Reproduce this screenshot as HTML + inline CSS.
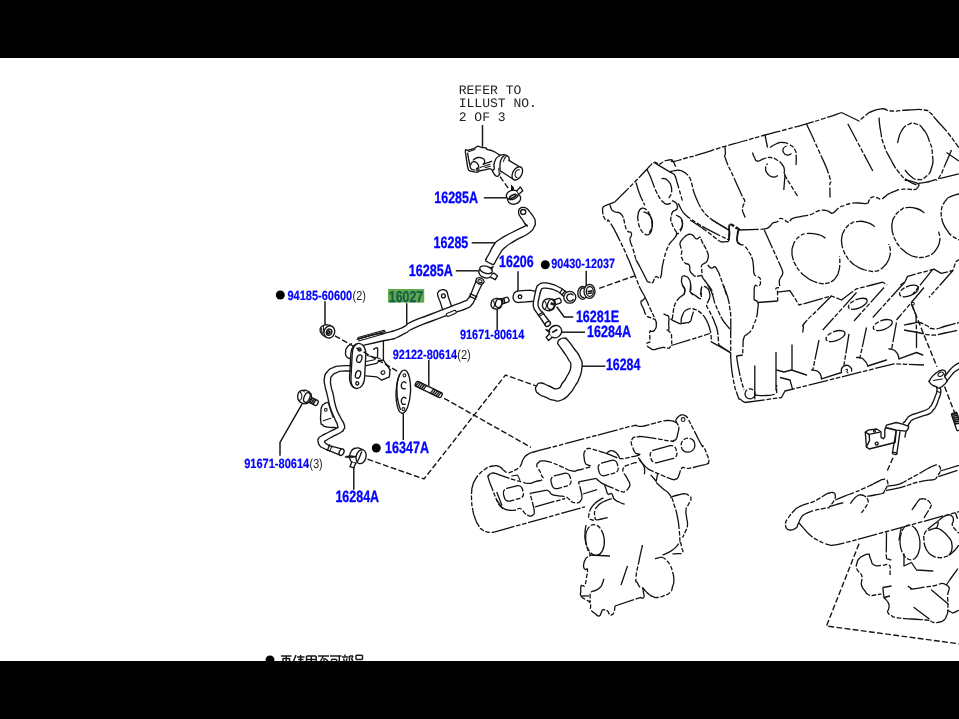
<!DOCTYPE html>
<html><head><meta charset="utf-8"><title>Parts diagram</title>
<style>
html,body{margin:0;padding:0;background:#fff;}
body{width:959px;height:719px;overflow:hidden;position:relative;font-family:"Liberation Sans",sans-serif;}
svg{position:absolute;left:0;top:0;display:block;}
text{text-rendering:geometricPrecision;}
.s{fill:none;stroke:#151515;stroke-width:1.35;stroke-linecap:round;stroke-linejoin:round;}
.w{fill:#fff;stroke:#151515;stroke-width:1.35;stroke-linecap:round;stroke-linejoin:round;}
.t{fill:none;stroke:#151515;stroke-width:1.05;stroke-linecap:round;stroke-linejoin:round;}
.k{fill:none;stroke:#1a1a1a;stroke-width:1.7;stroke-linecap:butt;}
.ld{fill:none;stroke:#151515;stroke-width:1.45;}
.d{fill:none;stroke:#151515;stroke-width:1.4;stroke-dasharray:5.8 2.4;}
.c{fill:none;stroke:#111;stroke-width:1.3;stroke-dasharray:20 1.7 4.6 1.7 4.6 1.7;stroke-linejoin:round;}
.b14{font:bold 15.0px "Liberation Sans",sans-serif;fill:#0000ff;stroke:#0000ff;stroke-width:0.3;}
.b12{font:bold 13.3px "Liberation Sans",sans-serif;fill:#0000ff;stroke:#0000ff;stroke-width:0.2;}
.g15{font:bold 15.8px "Liberation Sans",sans-serif;fill:#17604f;stroke:#17604f;stroke-width:0.35;}
.q12{font:13px "Liberation Sans",sans-serif;fill:#222;}
.m13{font:13px "Liberation Mono",monospace;fill:#222;}
</style></head><body>
<svg width="959" height="719" viewBox="0 0 959 719">
<rect x="0" y="0" width="959" height="719" fill="#fff"/>
<g opacity="0.999">
<text class="m13" x="458.7" y="93.7" textLength="62.6" lengthAdjust="spacingAndGlyphs">REFER TO</text>
<text class="m13" x="458.7" y="107.2" textLength="78.2" lengthAdjust="spacingAndGlyphs">ILLUST NO.</text>
<text class="m13" x="458.7" y="121.2" textLength="47" lengthAdjust="spacingAndGlyphs">2 OF 3</text>
<text class="b14" transform="translate(434.3 202.5) scale(1 1.09)" x="0" y="0" textLength="43.7" lengthAdjust="spacingAndGlyphs">16285A</text>
<text class="b14" transform="translate(433.6 247.8) scale(1 1.09)" x="0" y="0" textLength="34.7" lengthAdjust="spacingAndGlyphs">16285</text>
<text class="b14" transform="translate(408.8 275.5) scale(1 1.09)" x="0" y="0" textLength="44" lengthAdjust="spacingAndGlyphs">16285A</text>
<text class="b14" transform="translate(499.1 266.7) scale(1 1.09)" x="0" y="0" textLength="34.5" lengthAdjust="spacingAndGlyphs">16206</text>
<text class="b12" x="551.3" y="268.3" textLength="63.7" lengthAdjust="spacingAndGlyphs">90430-12037</text>
<text class="b12" x="287.5" y="299.7" textLength="64.7" lengthAdjust="spacingAndGlyphs">94185-60600</text>
<text class="q12" x="352.6" y="299.7" textLength="13.2" lengthAdjust="spacingAndGlyphs">(2)</text>
<rect x="388" y="289" width="36.2" height="13.6" fill="#62a94b"/>
<text class="g15" x="388.8" y="301.9" textLength="34.4" lengthAdjust="spacingAndGlyphs">16027</text>
<text class="b14" transform="translate(575.9 322) scale(1 1.09)" x="0" y="0" textLength="43.1" lengthAdjust="spacingAndGlyphs">16281E</text>
<text class="b12" x="460" y="338.7" textLength="64.2" lengthAdjust="spacingAndGlyphs">91671-80614</text>
<text class="b14" transform="translate(587.1 336.7) scale(1 1.09)" x="0" y="0" textLength="44" lengthAdjust="spacingAndGlyphs">16284A</text>
<text class="b12" x="392.8" y="358.8" textLength="64.2" lengthAdjust="spacingAndGlyphs">92122-80614</text>
<text class="q12" x="457.2" y="358.8" textLength="13.6" lengthAdjust="spacingAndGlyphs">(2)</text>
<text class="b14" transform="translate(605.9 370) scale(1 1.09)" x="0" y="0" textLength="34.4" lengthAdjust="spacingAndGlyphs">16284</text>
<text class="b14" transform="translate(385.1 452.5) scale(1 1.09)" x="0" y="0" textLength="44" lengthAdjust="spacingAndGlyphs">16347A</text>
<text class="b12" x="244.2" y="467.8" textLength="65" lengthAdjust="spacingAndGlyphs">91671-80614</text>
<text class="q12" x="309.6" y="467.8" textLength="13" lengthAdjust="spacingAndGlyphs">(3)</text>
<text class="b14" transform="translate(335.4 501.7) scale(1 1.09)" x="0" y="0" textLength="43.7" lengthAdjust="spacingAndGlyphs">16284A</text>
<circle cx="545.3" cy="264.7" r="4.5" fill="#000"/>
<circle cx="280.3" cy="295" r="4.5" fill="#000"/>
<circle cx="376.3" cy="448" r="4.5" fill="#000"/>
<circle cx="270" cy="660" r="4.5" fill="#000"/>
<path class="ld" d="M482.5 125 L482.5 146.7"/>
<path class="ld" d="M483.8 197.8 L506.7 197.8"/>
<path class="ld" d="M471.7 242.8 L495 242.8"/>
<path class="ld" d="M455.8 270.8 L480 270.8"/>
<path class="ld" d="M518 271.3 L518 290.8"/>
<path class="ld" d="M586.2 270.8 L586.2 286.7"/>
<path class="ld" d="M325 301.2 L325 324.7"/>
<path class="ld" d="M406.7 303.2 L406.7 324.5"/>
<path class="ld" d="M556.7 306.7 L564.2 317 L573.3 317"/>
<path class="ld" d="M497.2 308.9 L497.2 329.6"/>
<path class="ld" d="M560 332.2 L585 332.2"/>
<path class="ld" d="M428.8 360 L428.8 385.8"/>
<path class="ld" d="M582 366.2 L605.3 366.2"/>
<path class="ld" d="M403.3 413.3 L403.3 440"/>
<path class="ld" d="M302 404.2 L280 442.5 L280 455.8"/>
<path class="ld" d="M353.8 466.7 L353.8 489.7"/>
<path class="ld" d="M281 656 L291.5 656"/>
<path class="ld" d="M283 658 L283 662"/>
<path class="ld" d="M286.2 656 L286.2 662"/>
<path class="ld" d="M289.5 658 L289.5 662"/>
<path class="ld" d="M283 658.5 L289.5 658.5"/>
<path class="ld" d="M296 655 L293.2 662"/>
<path class="ld" d="M297 657 L304.5 657"/>
<path class="ld" d="M300.6 655 L300.6 662"/>
<path class="ld" d="M298 659.5 L303.5 659.5"/>
<path class="ld" d="M306.5 656 L316.2 656"/>
<path class="ld" d="M306.5 656 L306.5 662"/>
<path class="ld" d="M311.3 656 L311.3 662"/>
<path class="ld" d="M316.2 656 L316.2 662"/>
<path class="ld" d="M306.5 659.5 L316.2 659.5"/>
<path class="ld" d="M318 656 L329 656"/>
<path class="ld" d="M323.5 656 L320 662"/>
<path class="ld" d="M324 658 L324 662"/>
<path class="ld" d="M325 658.5 L328 661"/>
<path class="ld" d="M330 656 L341.5 656"/>
<path class="ld" d="M339.3 656 L339.3 662"/>
<path class="ld" d="M331.5 659.3 L336.5 659.3"/>
<path class="ld" d="M331.5 659.3 L331.5 662"/>
<path class="ld" d="M336.5 659.3 L336.5 662"/>
<path class="ld" d="M345 654.6 L345 656.5"/>
<path class="ld" d="M342 657 L348.5 657"/>
<path class="ld" d="M343.5 658.5 L344.3 661"/>
<path class="ld" d="M347 658.5 L346.3 661"/>
<path class="ld" d="M349.5 656 L353 656"/>
<path class="ld" d="M353 656 L351.5 659"/>
<path class="ld" d="M349.5 656 L349.5 662"/>
<path class="ld" d="M351.5 659 L353 661"/>
<path class="ld" d="M356 655.3 L362.5 655.3"/>
<path class="ld" d="M356 655.3 L356 659.5"/>
<path class="ld" d="M362.5 655.3 L362.5 659.5"/>
<path class="ld" d="M356 659.5 L362.5 659.5"/>
<path class="s" d="M508.8 160.4 L520.8 167.5"/>
<path class="s" d="M501.7 171.7 L513.3 179.2"/>
<ellipse class="w" cx="517.3" cy="173.4" rx="4.5" ry="7.2" transform="rotate(30 517.3 173.4)"/>
<path class="t" d="M519.4 169.8C518.5 170.1 518 169.3 516.6 170.6C515.2 171.9 515.5 171.7 515.2 173.6C514.9 175.5 514.9 175 515.6 176.4C516.3 177.8 516.7 177.3 517.2 177.8"/>
<path class="s" d="M467.5 150.4C467.1 150.2 467 149.8 466.3 149.9C465.6 150 465.5 148.8 465.4 150.8C465.3 152.8 465.6 152.7 466 156C466.4 159.3 466.2 157.6 466.7 160.8C467.2 164 466.9 162.7 467.4 165.5C467.9 168.3 467.6 167.5 468.3 169.2C469 170.9 468.5 169.9 469.6 170.6C470.7 171.3 470.1 170.9 471.7 171.3C473.3 171.7 472.6 171.5 474.5 171.8C476.4 172.1 475.7 172.4 477.5 172.1C479.3 171.8 477.5 171.6 480 170.8C482.5 170 481.7 170.5 485 169.8C488.3 169.1 487.5 168.5 490 168.8C492.5 169.1 491.7 170.1 492.5 170.8"/>
<path class="s" d="M467.5 150.4C468.7 150.1 468.8 150.1 471 149.4C473.2 148.7 472.5 149 474.2 148.3C475.9 147.6 474.9 147.9 476 147.2C477.1 146.5 476.2 146.4 477.5 146.3C478.8 146.2 478.3 146.4 480 146.8C481.7 147.2 480.6 147.1 482.5 147.5C484.4 147.9 484.4 147.3 485.8 147.9C487.2 148.5 485.5 148.5 486.7 149.2C487.9 149.9 487.6 149.5 489.5 150C491.4 150.5 490.2 149.8 492.5 150.8C494.8 151.8 494 151.5 496.5 153C499 154.5 498.8 154.6 500 155.4"/>
<path class="s" d="M500 155.4C498.9 156.2 498.3 156.2 496.7 157.9C495.1 159.6 496 158.7 495.2 160.5C494.4 162.3 494.6 161.5 494.2 163.3C493.8 165.1 494 164.3 494 166C494 167.7 494.3 167 494.2 168.3C494.1 169.6 494.2 169 493.6 169.8C493 170.6 492.5 169.7 492.5 170.8C492.5 171.9 492.8 171.6 493.6 173C494.4 174.4 494.1 174 495 175C495.9 176 495.4 175.6 496.2 176C497 176.4 496.6 176.6 497.5 176.3C498.4 176 498.2 176.2 499 175.2C499.8 174.2 499.7 173.9 500 173.3"/>
<path class="s" d="M500 155.4C500.9 155.1 500.9 154.7 502.6 154.6C504.3 154.5 503.6 154.7 505 155C506.4 155.3 505.7 154.8 506.8 155.4C507.9 156 507.6 155.8 508.3 156.7C509 157.6 508.7 157 509 158.2C509.3 159.4 509.1 159.5 509.2 160.2"/>
<path class="s" d="M504.2 155.8C503.6 156.3 503.4 156.3 502.4 157.4C501.4 158.5 502 157.7 501.3 159.2C500.6 160.7 500.8 160.1 500.4 162C500 163.9 500.1 163 500 165C499.9 167 499.9 166.1 500 168C500.1 169.9 499.8 169.6 500.4 170.8C501 172 501.3 171.4 501.7 171.7"/>
<path class="t" d="M498.8 168.3 L499.2 173.6"/>
<path class="t" d="M506.4 156.4C505.7 157.2 505.3 157.1 504.4 158.8C503.5 160.5 503.9 160.7 503.6 161.6"/>
<path class="s" d="M467.6 153.3C467.9 154.9 467.9 155.2 468.4 158C468.9 160.8 468.7 159.2 469.2 161.7C469.7 164.2 469.5 163.3 470 165.5C470.5 167.7 470 167 470.8 168.3C471.6 169.6 471.2 168.9 472.3 169.5C473.4 170.1 473.6 169.8 474.2 170"/>
<path class="t" d="M468.3 151.7 L475 149.6"/>
<path class="s" d="M473.3 160C474.1 159.5 473.9 159.2 475.6 158.4C477.3 157.6 476.5 157.7 478.3 157.5C480.1 157.3 479.3 157.4 481 157.8C482.7 158.2 482.2 158 483.3 158.8C484.4 159.6 484 159.2 484.4 160.2C484.8 161.2 484.7 160.7 484.6 161.7C484.5 162.7 484.6 162.4 484.2 163.2C483.8 164 483.6 163.9 483.3 164.2"/>
<path class="s" d="M470.8 164.6C471.2 163.9 470.9 163.6 472 162.6C473.1 161.6 472.7 161.6 474.2 161.7C475.7 161.8 475.2 161.7 476.6 162.8C478 163.9 477.7 163.5 478.3 165C478.9 166.5 478.7 165.8 478.4 167.2C478.1 168.6 477.8 168.5 477.5 169.2"/>
<ellipse class="t" cx="477.6" cy="169.4" rx="1.5" ry="1.4"/>
<path class="s" d="M483.3 164.2 L491.7 161.3"/>
<path class="t" d="M480 167.5 L490 164.2"/>
<path class="t" d="M485 167.8 L490.4 166.2"/>
<path class="d" d="M500 176.7 L508.6 188.6"/>
<ellipse class="w" cx="514.2" cy="198.9" rx="6.6" ry="5.2" transform="rotate(-15 514.2 198.9)"/>
<ellipse class="w" cx="512.3" cy="194.8" rx="6.2" ry="4.5" transform="rotate(-20 512.3 194.8)"/>
<ellipse class="k" cx="512.8" cy="196.4" rx="3.7" ry="1.2" transform="rotate(-27 512.8 196.4)"/>
<path class="w" d="M516.9 190.8 L520.3 186.9 L522.8 190.8 L519.4 193.8"/>
<path d="M511 184.6 L513.9 187.2 L514 190.6 L511 190.4 Z" fill="#111"/>
<path class="s" d="M518.6 211.2C519 210.3 518.3 209.9 519.8 208.6C521.3 207.3 520.8 207.5 523 207.4C525.2 207.3 524.2 207 526.4 208.4C528.6 209.8 527.2 208.8 529.5 211.6C531.8 214.4 531.5 213.3 533.4 216.8C535.3 220.3 535.1 218.4 535.2 222C535.3 225.6 536 223.8 533.8 227.5C531.6 231.2 534.5 229 528.6 233.2C522.7 237.4 523.9 235.4 516 240.2C508.1 245 510.5 242.7 505 247.5C499.5 252.3 503 249.1 499.5 254.5C496 259.9 496.1 260.6 494.4 263.6"/>
<path class="s" d="M518.6 211.2C518.7 212.1 518.2 212.1 518.8 214C519.4 215.9 519 214.6 520.4 216.8C521.8 219 521.2 217.8 523 220.6C524.8 223.4 524.9 223.7 525.8 225.2"/>
<path class="s" d="M527.2 225.2C522.1 227.6 521.2 227.7 512 232.5C502.8 237.3 505.7 235.2 499.5 239.5C493.3 243.8 496.8 241 493.5 245.5C490.2 250 492.1 248.4 489.5 253C486.9 257.6 487 257.3 485.8 259.4"/>
<path class="s" d="M485.8 259.4C485.8 259.8 485.5 260 485.7 260.6C485.9 261.2 485.2 260.5 486.4 261.3C487.6 262.1 487.5 262 489.4 263C491.3 264 490.9 263.8 492.2 264.3C493.5 264.8 492.7 264.6 493.4 264.4C494.1 264.2 494.1 263.9 494.4 263.6"/>
<ellipse class="s" cx="523.2" cy="211.9" rx="2.6" ry="2.4"/>
<path class="t" d="M525.6 223.8 L527.4 226.4"/>
<path class="w" d="M479.6 269.4C479.4 270.1 478.8 269.5 478.9 271.4C479 273.3 478.8 273.2 480 275C481.2 276.8 480.6 275.8 482.5 276.8C484.4 277.8 483.8 277.5 485.6 277.9C487.4 278.3 486.5 278.1 488 277.9C489.5 277.7 488.9 277.8 490 277.2C491.1 276.6 490.6 277 491.3 276C492 275 491.8 274.8 492 274.2"/>
<ellipse class="w" cx="486" cy="269.8" rx="6.5" ry="3.5" transform="rotate(17 486 269.8)"/>
<path class="w" d="M492.2 273.9 L493.9 273.1 L497.5 275.8 L495.3 279.7 L490.8 277.3"/>
<path d="M489.8 267.9 L493.5 266 L492.3 269.2 Z" fill="#111" stroke="#111" stroke-width="0.6"/>
<path class="s" d="M357.5 339.2C362.3 337.9 362.6 337.3 372 335.2C381.4 333.1 379.3 334 385.6 332.8C391.9 331.6 386.9 332.7 391 331.6C395.1 330.5 393.3 331.2 398 329.4C402.7 327.6 400.4 328.8 405 326.2C409.6 323.6 403.4 325.6 411.7 321.7C420 317.8 417.2 319.5 430 314.5C442.8 309.5 438.9 311.1 450 306.8C461.1 302.5 457.3 304.4 463.3 301.7C469.3 299 465.6 301.2 468 298.8C470.4 296.4 468.8 298.4 470.6 294.6C472.4 290.8 471.4 292.6 473.5 287.5C475.6 282.4 475.7 282 476.8 279.3"/>
<path class="s" d="M361.7 345.8C367.8 344.4 369.9 343.7 380 341.5C390.1 339.3 386.4 340.5 392 339.2C397.6 337.9 393.4 339 396.7 337.5C400 336 398.7 336.5 402 334.8C405.3 333.1 403 334.6 406.7 332.5C410.4 330.4 404.6 332.4 413 328.6C421.4 324.8 419 326 432 321C445 316 440.4 317.8 452 313.6C463.6 309.4 460.2 311.2 466.7 308.3C473.2 305.4 468.9 307.8 471.5 305C474.1 302.2 472.3 304.5 474.6 300C476.9 295.5 475.6 297.6 478.5 291.5C481.4 285.4 481.6 285 483.2 281.8"/>
<ellipse class="w" cx="480" cy="280.9" rx="4.1" ry="3" transform="rotate(18 480 280.9)"/>
<ellipse class="t" cx="480" cy="281.1" rx="2.2" ry="1.3" transform="rotate(18 480 281.1)"/>
<path class="s" d="M469.2 296.2 L475.8 299.2"/>
<path class="s" d="M470.2 293.6 L476.9 296.8"/>
<path class="s" d="M442.5 309.6C441.7 306.9 441.6 306.2 440 301.4C438.4 296.6 438.3 298.3 437.7 295.2C437.1 292.1 437.4 293.8 438.3 292.2C439.2 290.6 438.8 291.1 440.4 290.3C442 289.5 441.3 289.7 443 289.7C444.7 289.7 444.1 289.5 445.5 290.4C446.9 291.3 446.4 290.9 447.2 292.4C448 293.9 447 292.3 447.8 295C448.6 297.7 448.3 296.8 449.6 300.6C450.9 304.4 450.9 304.5 451.6 306.4"/>
<ellipse class="s" cx="443.4" cy="295.9" rx="1.9" ry="2"/>
<g transform="rotate(-21.5 451.3 313.4)"><rect class="w" x="446.1" y="311.8" width="10.4" height="3.2" rx="1.6" style="stroke-width:1.1"/></g>
<path class="s" d="M357.5 339.2 L384.2 331.7"/>
<path class="t" d="M358.5 340.9 L385 333.4"/>
<path class="t" d="M358 337.6 L384 330.2 L385.2 331.6"/>
<path class="s" d="M383.4 340.8 L383.4 360.2"/>
<path class="s" d="M365 365.8 L376.7 363.3 L380 360.2 L383.4 360.2"/>
<path class="s" d="M383.4 360.2C384.4 361.6 384.3 361.4 386.5 364.5C388.7 367.6 388.8 367.9 390 369.6"/>
<path class="s" d="M390 369.6 L389.4 376.8 L381.8 380.2 L376.7 376.8 L365.8 375.8"/>
<ellipse class="t" cx="383" cy="372.6" rx="2" ry="1.7" transform="rotate(-20 383 372.6)"/>
<path class="s" d="M373.6 349.4C374.3 349 374.3 348.5 375.6 348.2C376.9 347.9 376.7 346.9 377.4 348.4C378.1 349.9 377.6 349.7 377.6 352.6C377.6 355.5 377.5 355.7 377.4 357.2"/>
<path class="t" d="M367 355.5 L380 358.6"/>
<path class="t" d="M366 361.5 L374.5 359.8 L376 357.5"/>
<path class="s" d="M351.5 343.8C350.1 344.9 349.3 344.3 347.3 347C345.3 349.7 345.8 348.8 345.6 352C345.4 355.2 345.1 354.4 346.6 356.6C348.1 358.8 349 357.9 350.2 358.6"/>
<g transform="rotate(3 357.7 366)">
<path class="w" d="M357.7 343.4 C361.6 343.4 365.1 347.5 365.2 354 L365.2 378 C365.1 384.5 361.6 388.5 357.7 388.5 C353.8 388.5 350.3 384.5 350.2 378 L350.2 354 C350.3 347.5 353.8 343.4 357.7 343.4 Z"/>
<path class="s" d="M355.6 344.2 C352.8 345.6 351.6 349.5 351.6 354 L351.6 378 C351.6 382.6 352.8 386.4 355.4 387.8"/>
<ellipse class="s" cx="358.6" cy="349.4" rx="1.5" ry="1.6"/>
<ellipse class="s" cx="358.2" cy="383.4" rx="1.5" ry="1.6"/>
<ellipse class="s" cx="358.9" cy="358.6" rx="2.5" ry="3.9" transform="rotate(14 358.9 358.6)"/>
<ellipse class="s" cx="358.5" cy="374.4" rx="2.5" ry="3.9" transform="rotate(14 358.5 374.4)"/>
</g>
<path class="s" d="M350.8 365.8C347.5 365.8 346.8 365.2 341 365.8C335.2 366.4 337.9 365.5 333.3 367.5C328.7 369.5 330.2 368.2 327.2 371.8C324.2 375.4 325.1 373.6 324.4 378.3C323.7 383 324.1 380.5 325 386C325.9 391.5 325.5 387.9 327.2 394.8C328.9 401.7 327.7 399.1 330 406.7C332.3 414.3 331.7 411.2 334.2 417.5C336.7 423.8 337 422 337.6 425.6C338.2 429.2 338.9 426.3 336 428.4C333.1 430.5 333.8 429.5 329 432C324.2 434.5 325.2 433.6 321.7 435.8C318.2 438 319.7 436.5 318.5 438.6C317.3 440.7 317.8 439.7 318.2 442C318.6 444.3 318 443.4 319.6 445.4C321.2 447.4 319.2 446 323 448C326.8 450 325.3 449.1 331 451.4C336.7 453.7 337 453.8 340 455"/>
<path class="s" d="M351.3 371C348.2 371.1 346.9 370.7 342 371.2C337.1 371.7 340 371.1 336.7 372.6C333.4 374.1 334.2 373.1 332.2 375.6C330.2 378.1 330.9 376.2 330.6 380C330.3 383.8 330.3 382.1 331.2 387C332.1 391.9 331.8 388.2 333.3 394.8C334.8 401.4 333.6 399.5 335.8 406.7C338 413.9 337.2 410.4 340 416.5C342.8 422.6 343.1 420.6 344.3 425C345.5 429.4 344.7 427.2 343.6 429.6C342.5 432 344.5 429.9 341 432.2C337.5 434.5 337.8 433.8 333 436.4C328.2 439 329.4 438.3 326.7 440C324 441.7 325.2 440.3 324.8 441.4C324.4 442.5 323.9 441.7 325.6 443.2C327.3 444.7 326.2 444.3 330 445.8C333.8 447.3 332.6 446.4 337 447.6C341.4 448.8 341.2 448.8 343.3 449.4"/>
<ellipse class="w" cx="341.6" cy="452.2" rx="2.3" ry="3.4" transform="rotate(22 341.6 452.2)"/>
<path class="s" d="M329.6 444.8 L327.4 450.4"/>
<path class="t" d="M332 445.8 L329.8 451.4"/>
<path class="w" d="M327.6 402.4C326.4 402.9 325.9 402.5 324 404C322.1 405.5 322.8 404.1 321.8 406.8C320.8 409.5 321.2 407 320.9 412C320.6 417 320.2 417.4 320.8 421.7C321.4 426 321.1 423.1 322.6 424.8C324.1 426.5 322.7 425.9 325.2 426.7C327.7 427.5 326.5 427 330 427.3C333.5 427.6 333.7 427.5 335.6 427.6"/>
<ellipse class="t" cx="325.8" cy="409.7" rx="1.3" ry="1.5"/>
<path class="t" d="M323.3 420.8 L330.8 418.3"/>
<path class="t" d="M328.2 402.6C328.9 404.7 328.6 404 330.2 409C331.8 414 332.1 414.7 333 417.5"/>
<path class="w" d="M330.4 325.4C329.3 325.2 329 324.9 327 324.8C325 324.7 326.4 324.4 324.4 325.2C322.4 326 322.4 325.4 321 327.2C319.6 329 320.1 328.6 320.2 330.6C320.3 332.6 320.4 331.7 321.4 333.2C322.4 334.7 321.6 333.9 323.1 335.2C324.6 336.5 325 336.5 326 337.2"/>
<path class="t" d="M323.4 326.6C323.5 327.7 323.3 327.7 323.6 330C323.9 332.3 324.1 332.3 324.4 333.4"/>
<path class="t" d="M321.6 328.6C321.7 329.4 321.5 329.5 321.8 331C322.1 332.5 322.3 332.5 322.6 333.2"/>
<ellipse class="w" cx="329.4" cy="331.9" rx="5.3" ry="6.2" transform="rotate(18 329.4 331.9)"/>
<ellipse class="s" cx="329.1" cy="332.2" rx="2.7" ry="3.2" transform="rotate(18 329.1 332.2)"/>
<ellipse class="k" cx="328.8" cy="332.3" rx="1.1" ry="1.4" transform="rotate(18 328.8 332.3)"/>
<ellipse class="w" cx="403.3" cy="391.7" rx="7.2" ry="21.6" transform="rotate(3 403.3 391.7)"/>
<path class="s" d="M399.6 374.4C398.9 376.9 398.3 376.3 397.4 382C396.5 387.7 396.8 385.3 397 391.6C397.2 397.9 396.9 395.1 398 401C399.1 406.9 399.6 406.6 400.4 409.4"/>
<ellipse class="t" cx="404.4" cy="375.3" rx="1.4" ry="1.6"/>
<ellipse class="t" cx="403.4" cy="409.2" rx="1.4" ry="1.6"/>
<path class="s" d="M406 382.8C405.1 382.5 404.9 381.2 403.4 381.8C401.9 382.4 401.8 382.5 401.4 384.6C401 386.7 400.9 386.9 402.2 388.2C403.5 389.5 404.2 388.5 405.2 388.6"/>
<path class="s" d="M406 398.4C405.1 398.1 404.9 396.8 403.4 397.4C401.9 398 401.8 398.1 401.4 400.2C401 402.3 400.9 402.5 402.2 403.8C403.5 405.1 404.2 404.1 405.2 404.2"/>
<g transform="rotate(25.8 428.7 389.5)">
<rect class="w" x="414.3" y="386.8" width="28.8" height="5.4" rx="1.8"/>
<path class="s" d="M416.6 387 L415.4 392"/>
<path class="s" d="M418.7 387 L417.5 392"/>
<path class="s" d="M420.8 387 L419.6 392"/>
<path class="s" d="M422.9 387 L421.7 392"/>
<path class="s" d="M425 387 L423.8 392"/>
<path class="s" d="M433 387 L431.8 392"/>
<path class="s" d="M435.1 387 L433.9 392"/>
<path class="s" d="M437.2 387 L436 392"/>
<path class="s" d="M439.3 387 L438.1 392"/>
<path class="s" d="M441.2 387 L440 392"/>
</g>
<g transform="rotate(26 305.5 397.6)">
<rect class="w" x="305.5" y="394.90000000000003" width="13.6" height="5.4" rx="1.6"/>
<path class="k" d="M307.9 394.7 L307.0 400.5"/>
<path class="k" d="M309.9 394.7 L309.0 400.5"/>
<path class="k" d="M311.9 394.7 L311.0 400.5"/>
<path class="k" d="M313.9 394.7 L313.0 400.5"/>
<path class="k" d="M315.9 394.7 L315.0 400.5"/>
</g>
<path class="w" d="M298 394.5C298.6 392.5 297.9 393 299.6 391.6C301.3 390.2 300.5 390.7 303 390.4C305.5 390.1 304.7 390.1 307 390.8C309.3 391.5 308.3 391 309.8 392.6C311.3 394.2 311.1 393.3 311.4 395.6C311.7 397.9 311.5 397.1 310.6 399.4C309.7 401.7 310.3 401 308.6 402.4C306.9 403.8 307.7 403.4 305.4 403.6C303.1 403.8 303.7 404 301.6 403C299.5 402 300.3 402.4 299 400.6C297.7 398.8 298.1 399.6 297.8 397.6C297.5 395.6 297.4 396.5 298 394.5Z"/>
<ellipse class="s" cx="306.9" cy="397.5" rx="2.8" ry="5.1" transform="rotate(22 306.9 397.5)"/>
<path class="t" d="M299.6 391.6C300.3 392.5 301 392.1 301.6 394.4C302.2 396.7 302.3 396.5 301.4 398.6C300.5 400.7 299.8 399.9 299 400.6"/>
<path class="t" d="M303 390.4 L304.4 392"/>
<path class="w" d="M362.8 449.7C361.7 449.2 361.6 448.8 359.6 448.3C357.6 447.8 359 447.7 356.7 448.1C354.4 448.5 354.8 447.8 352.8 449.4C350.8 451 351.6 450.7 350.6 452.8C349.6 454.9 350 453.7 349.7 455.6C349.4 457.5 349.1 456.4 349.8 458.4C350.5 460.4 349.6 460.2 351.7 461.7C353.8 463.2 354.6 462.6 356.1 463"/>
<ellipse class="w" cx="361.1" cy="456.7" rx="4.9" ry="7.1" transform="rotate(15 361.1 456.7)"/>
<path class="s" d="M361.5 452C360.9 453.7 360.9 453.9 359.6 457C358.3 460.1 358.3 459.8 357.6 461.2"/>
<path d="M345.2 456.4 L350.2 455.6 L356 456.3 L356 457.2 L350.4 457.8 L345.2 457.4 Z" fill="#111" stroke="#111" stroke-width="0.5"/>
<path class="w" d="M351.7 462.2 L350 466.7 L353.9 467.8 L355.6 463.3"/>
<g transform="rotate(-19 498.6 302.6)">
<rect class="w" x="498.6" y="300.1" width="10.6" height="5.0" rx="1.6"/>
<path class="k" d="M501.0 299.9 L500.1 305.3"/>
<path class="k" d="M503.0 299.9 L502.1 305.3"/>
<path class="k" d="M505.0 299.9 L504.1 305.3"/>
</g>
<path class="w" d="M491.2 303.4C491.6 301.6 490.9 301.8 492.4 300.2C493.9 298.6 493.4 299.1 495.6 298.6C497.8 298.1 497.1 298.1 499 298.8C500.9 299.5 500.4 299 501.4 300.6C502.4 302.2 502.1 301.6 502 303.6C501.9 305.6 502.1 304.9 501 306.6C499.9 308.3 500.5 307.8 498.6 308.6C496.7 309.4 497.4 309.3 495.4 309C493.4 308.7 494 308.9 492.6 307.8C491.2 306.7 491.7 307.1 491.2 305.6C490.7 304.1 490.8 305.2 491.2 303.4Z"/>
<ellipse class="s" cx="498.8" cy="303.1" rx="3.2" ry="4.6" transform="rotate(18 498.8 303.1)"/>
<path class="t" d="M492.4 300.2C493 301 493.6 300.5 494.2 302.6C494.8 304.7 494.7 304.7 494.2 306.4C493.7 308.1 493.1 307.3 492.6 307.8"/>
<path class="s" d="M517.4 291.1C516.7 291.5 516.4 291.2 515.2 292.2C514 293.2 514.5 292.2 513.8 294C513.1 295.8 513.1 295.6 513.1 297.6C513.1 299.6 513.2 298.7 513.9 300C514.6 301.3 514.1 300.8 515.3 301.6C516.5 302.4 516 302 517.4 302.3C518.8 302.6 516.7 302.5 519.6 302.4C522.5 302.3 521.5 302.3 526 301.9C530.5 301.5 530.7 301.5 533 301.3"/>
<path class="s" d="M517.4 291.1C519.3 290.9 519.3 290.9 523 290.6C526.7 290.3 525.4 290.3 528.4 290.3C531.4 290.3 529.7 290.2 532 290.6C534.3 291 534.3 291.1 535.4 291.4"/>
<ellipse class="s" cx="520" cy="296.8" rx="1.8" ry="1.8"/>
<path class="s" d="M535.5 291.8C535.9 290.3 535.6 289.7 536.6 287.4C537.6 285.1 537 286.3 538.4 285C539.8 283.7 539.1 284.1 540.9 283.4C542.7 282.7 541.8 283 543.8 282.9C545.8 282.8 544.5 282.7 546.8 283C549.1 283.3 548.1 283.1 550.8 283.8C553.5 284.5 552.2 284.1 554.8 285.2C557.4 286.3 556.2 285.8 558.6 287C561 288.2 559.5 287.2 562.1 288.9C564.7 290.6 565 291.1 566.5 292.2"/>
<path class="s" d="M540.2 293.2C540.6 292 540.5 291.2 541.3 289.6C542.1 288 541.5 289 542.6 288.5C543.7 288 542.7 288.1 544.6 288.1C546.5 288.1 545.8 288 548.2 288.4C550.6 288.8 549.4 288.5 551.9 289.2C554.4 289.9 553.2 289.5 555.6 290.6C558 291.7 556.5 290.6 559.2 292.5C561.9 294.4 562.1 295 563.6 296.2"/>
<path class="s" d="M559.9 292.6 L562.5 289.2"/>
<path class="s" d="M562.1 294.7 L565 291.1"/>
<ellipse class="w" cx="569.8" cy="297.3" rx="6" ry="5.9"/>
<path class="s" d="M573 295C572.3 294.7 572.5 294.2 571 294C569.5 293.8 569.9 293.6 568.6 294.4C567.3 295.2 567.5 294.9 567 296.4C566.5 297.9 566.5 297.5 567.2 299C567.9 300.5 567.5 300.2 569 300.8C570.5 301.4 570.2 301.3 571.6 300.8C573 300.3 572.7 299.9 573.2 299.4"/>
<path class="s" d="M535.5 291.8C535.1 293.9 534.9 293.9 534.2 298C533.5 302.1 533.4 300.9 533.3 304.2C533.2 307.5 533.3 305.9 533.9 308C534.5 310.1 533.6 308.1 535.1 310.4C536.6 312.7 536.1 311.8 538.3 315C540.5 318.2 539.4 316.5 541.8 320C544.2 323.5 544.3 323.7 545.6 325.6"/>
<path class="s" d="M540.2 293.2C539.7 295.1 539.5 295.3 538.8 299C538.1 302.7 538 301.4 538 304.2C538 307 538.1 305.5 538.8 307.4C539.5 309.3 538.9 308.2 540.2 310C541.5 311.8 540.7 310.3 542.8 312.8C544.9 315.3 544 314.4 546.4 317.5C548.8 320.6 548.8 320.6 550 322.2"/>
<ellipse class="w" cx="547.8" cy="323.9" rx="2.9" ry="2.1" transform="rotate(-35 547.8 323.9)"/>
<path class="s" d="M538.3 315 L542.8 312.2"/>
<path class="t" d="M539.3 316.4 L543.8 313.6"/>
<ellipse class="w" cx="582.6" cy="292.9" rx="4.8" ry="6.4"/>
<path class="s" d="M584.4 288.6C583.7 288.5 583.5 287.5 582.2 288.2C580.9 288.9 581.1 288.7 580.4 290.6C579.7 292.5 579.8 291.9 580.2 294C580.6 296.1 580.4 295.6 581.6 296.8C582.8 298 583.1 297.3 583.8 297.6"/>
<ellipse class="w" cx="589.5" cy="291.4" rx="5.5" ry="7"/>
<ellipse class="s" cx="589.8" cy="291.4" rx="3.5" ry="4.9"/>
<path class="k" d="M587.6 291.6 L592.2 290.8"/>
<path class="s" d="M588.4 293.5 L591.6 293"/>
<g transform="rotate(-19 551 303.6)">
<rect class="w" x="551" y="301.1" width="10.4" height="5.0" rx="1.6"/>
<path class="k" d="M553.4 300.9 L552.5 306.3"/>
<path class="k" d="M555.4 300.9 L554.5 306.3"/>
</g>
<path class="w" d="M542.6 304.4C543 302.3 542.4 302.6 544 300.8C545.6 299 545.1 299.5 547.4 299C549.7 298.5 548.9 298.5 551 299.2C553.1 299.9 552.5 299.4 553.8 301C555.1 302.6 554.9 301.8 555 304C555.1 306.2 555.3 305.6 554.2 307.6C553.1 309.6 553.7 309 551.6 310C549.5 311 550.3 310.8 548 310.6C545.7 310.4 546.3 310.6 544.6 309.4C542.9 308.2 543.5 308.7 542.8 307C542.1 305.3 542.2 306.5 542.6 304.4Z"/>
<ellipse class="s" cx="551.2" cy="304.3" rx="3.5" ry="5.3" transform="rotate(18 551.2 304.3)"/>
<path class="t" d="M544 300.8C544.7 301.7 545.3 301.2 546 303.4C546.7 305.6 546.7 305.4 546.2 307.4C545.7 309.4 545.1 308.7 544.6 309.4"/>
<path class="k" d="M550.6 303.2 L555.4 304.8" style="stroke-width:2.6"/>
<ellipse class="w" cx="555.3" cy="331.6" rx="6.6" ry="6" transform="rotate(-35 555.3 331.6)"/>
<path class="k" d="M552.2 332.4 L557.3 329.4"/>
<path class="t" d="M549.2 330.4C550.3 329.2 549.8 328.5 552.4 326.8C555 325.1 555.5 325.9 557 325.4"/>
<path d="M545.2 329.4 L549 330 L550.2 332.2 L547.4 331.6 Z" fill="#111" stroke="#111" stroke-width="0.6"/>
<path class="w" d="M549.4 333.9 L546.1 337.2 L548.6 340.6 L551.9 337.5"/>
<path class="s" d="M557.5 343.3C558.1 342.1 557.2 341.3 559.4 339.6C561.6 337.9 561.5 338.1 564.2 338.2C566.9 338.3 564.2 336.6 567.5 340C570.8 343.4 569.8 342.7 574 348.5C578.2 354.3 577.3 351.4 580 357.5C582.7 363.6 582.3 359.8 582 366.7C581.7 373.6 581.5 371.9 579.2 378.3C576.9 384.7 578.1 381 575 386C571.9 391 574.4 388.6 570 393.3C565.6 398 567.3 397.7 561.7 400C556.1 402.3 558.5 401.1 553.3 400.2C548.1 399.3 550.7 399.4 546 397.4C541.3 395.4 542.6 396.7 539.2 394.2C535.8 391.7 536.6 392.8 535.8 390C535 387.2 535 388.1 536.7 385.8C538.4 383.5 536.7 382.9 540.8 383C544.9 383.1 543.4 384.1 549 386C554.6 387.9 553 389.7 557.5 388.7C562 387.7 559.4 387 562.5 383C565.6 379 563.9 382.1 566.7 376.7C569.5 371.3 570.3 372.5 570.8 366.7C571.3 360.9 570.9 364.4 568.3 359.2C565.7 354 566.6 356.3 563 351C559.4 345.7 559.3 345.9 557.5 343.3"/>
<path class="c" d="M614.6 202.1C616.7 200 614.3 202.5 620.9 195.9C627.5 189.3 625.7 191.2 634.4 182.3C643.1 173.4 641.7 174.9 646.9 169.3C652.1 163.7 647.7 167.9 650.1 165.6C652.5 163.3 652 163.4 654.2 162.5C656.4 161.6 655.1 162.5 656.8 163C658.5 163.5 657.3 164.4 659.4 164.1C661.5 163.8 660.6 163.2 663 162C665.4 160.8 663.7 161.1 666.7 160.4C669.7 159.7 669.6 159.5 671.9 159.9C674.2 160.3 668.8 162.1 673.5 161.5C678.2 160.9 677.2 160.4 686 158C694.8 155.6 687 158.1 700 154.2C713 150.3 710.3 150.7 725 146.3C739.7 141.9 730.7 144.8 744 141C757.3 137.2 751 138.8 765 135C779 131.2 772.2 133.2 786 129.5C799.8 125.8 793.8 127.5 806.5 123.8C819.2 120.1 812.3 122.3 824 118.5C835.7 114.7 835.7 114.5 841.5 112.5"/>
<path class="c" d="M841.5 112.5 L859 121 L869 112.5"/>
<path class="c" d="M869 112.5C873.2 111.3 874 109.3 881.5 108.8C889 108.3 882.7 110.6 891.5 111C900.3 111.4 897.2 110.3 908 110C918.8 109.7 916.3 108.8 924 110C931.7 111.2 926.8 110.2 931 113.5C935.2 116.8 930.8 113.5 936.5 120C942.2 126.5 940.6 123.8 948 133C955.4 142.2 955.2 142.7 958.8 147.5"/>
<path class="c" d="M614.6 202.1C612.9 202.8 612.9 202.8 609.4 204.2C605.9 205.6 606.4 205 604.2 206.3C602 207.6 603.3 206.8 602.8 208.2C602.3 209.6 602.5 208.6 602.6 210.5C602.7 212.4 602.5 211.6 603 214C603.5 216.4 602.9 215.5 604.2 217.8C605.5 220.1 604.7 219.1 606.8 220.8C608.9 222.5 606 216.3 610.4 223C614.8 229.7 613.9 228.7 620 241C626.1 253.3 625.9 253.7 628.8 260"/>
<path class="c" d="M609.9 204.7C610.3 205.8 610.1 206.1 611 208C611.9 209.9 611 209.2 612.5 210.5C614 211.8 613.3 211.3 615.4 212C617.5 212.7 616.9 211.8 618.8 212.6C620.7 213.4 619.8 213 621.2 214.4C622.6 215.8 621.9 214.5 622.9 216.7C623.9 218.9 623.5 218.2 624.2 221C624.9 223.8 623.9 221.7 625 225C626.1 228.3 625.5 228.5 627.5 231C629.5 233.5 629.8 230.8 631 232.5C632.2 234.2 631.5 233.5 631.2 236C630.9 238.5 629.4 235.7 630 240C630.6 244.3 631 242.3 633 249C635 255.7 635 256.3 636 260"/>
<path class="c" d="M636 182.3C636.5 184.2 636.4 184.2 637.6 188C638.8 191.8 638.1 189.9 639.6 193.8C641.1 197.7 640.3 195.8 642 199.6C643.7 203.4 643.9 203.4 644.8 205.3"/>
<path class="c" d="M646.9 169.3C648 171.6 648 171.2 650.1 176.1C652.2 181 651.1 178.8 653.2 184C655.3 189.2 653.9 186.7 656.3 191.7C658.7 196.7 658.1 195.5 660.5 199C662.9 202.5 661.3 200.5 663.4 202.2C665.5 203.9 664.2 203.9 666.7 204.2C669.2 204.5 669.5 203.5 670.9 203.2"/>
<path class="c" d="M661.5 178.7C662.4 178.7 662.5 178.3 664.2 178.6C665.9 178.9 665 178.5 666.7 179.7C668.4 180.9 667.8 180.3 669.2 182.2C670.6 184.1 670.1 183.2 670.9 185.5C671.7 187.8 671.4 186.6 671.6 189C671.8 191.4 671.9 190.4 671.4 192.8C670.9 195.2 671.2 194.1 670 196.2C668.8 198.3 668.5 198.1 667.8 199"/>
<ellipse class="c" cx="645" cy="221.5" rx="6.8" ry="13.6" transform="rotate(-12 645 221.5)"/>
<path class="c" d="M643.3 212C644.3 212.3 644.5 211.9 646.4 212.8C648.3 213.7 647.5 213.1 649 214.7C650.5 216.3 650 215.5 651 217.6C652 219.7 651.6 218.4 652.1 220.9C652.6 223.4 652.6 222.3 652.4 225C652.2 227.7 652.5 226.3 651.4 229C650.3 231.7 649.8 231.7 649 233"/>
<path class="c" d="M676.1 215.2C677.1 215.7 677.3 215.4 679 216.6C680.7 217.8 680.2 217 681.3 218.8C682.4 220.6 682 219.9 682.4 222C682.8 224.1 682.7 222.7 682.4 225C682.1 227.3 682.4 226.5 681.4 229C680.4 231.5 681 230.6 679.4 232.4C677.8 234.2 677.5 233.7 676.6 234.4"/>
<path class="c" d="M673.5 161.5 L675.6 166.7"/>
<path class="s" d="M654.2 162.5C657 164.2 657.4 164.6 662.6 167.7C667.8 170.8 667.5 170.5 669.9 171.9"/>
<path class="c" d="M669.9 171.9C670.9 172.5 671.1 172.2 672.8 173.6C674.5 175 673.6 173 675.1 176.1C676.6 179.2 675.8 178.3 677.2 182.8C678.6 187.3 677.9 185.2 679.2 189.6C680.5 194 679.8 191.8 681 196C682.2 200.2 682.3 200.1 682.9 202.1"/>
<path class="c" d="M678.2 203.2C679 204.8 678.9 204.9 680.6 208C682.3 211.1 681.3 209.9 683.4 212.6C685.5 215.3 684.4 213.9 686.8 216C689.2 218.1 686.3 215.8 690.7 218.8C695.1 221.8 692.2 220.4 700 225C707.8 229.6 704.4 227.6 714 232.6C723.6 237.6 723.9 237.5 728.8 240"/>
<path class="c" d="M669.9 171.9C671.5 171.5 671.5 171.1 674.6 170.6C677.7 170.1 676.4 170 679.2 170.3C682 170.6 680.6 170.4 683 171.6C685.4 172.8 684.5 172.3 686.5 174C688.5 175.7 687.6 174.7 689 176.8C690.4 178.9 689.6 177.1 690.7 180.2C691.8 183.3 691.4 182.2 692.4 186C693.4 189.8 692.4 187.4 693.8 191.7C695.2 196 694.5 194.1 696.6 199C698.7 203.9 697.7 202.2 700 206.3C702.3 210.4 700.9 208.2 703.4 211.4C705.9 214.6 702.6 212 707.5 216C712.4 220 710.5 218.8 718 223.5C725.5 228.2 726 227.8 730 230"/>
<path class="c" d="M728.8 240C728.9 237.3 728.6 237 729 232C729.4 227 728 226.4 730 225C732 223.6 731.7 226.1 735 227.8C738.3 229.5 738.3 229.3 740 230"/>
<path class="c" d="M738.8 230 L761.4 229.3"/>
<path class="c" d="M761.4 229.3C762.5 229.1 762.6 229.3 764.8 228.8C767 228.3 766.1 228.8 768 227.8C769.9 226.8 769 227.2 770.4 225.8C771.8 224.4 771 224.6 772.3 223.5C773.6 222.4 772.9 222.9 774.4 222.4C775.9 221.9 775.2 222.7 776.7 222C778.2 221.3 777.6 221.6 778.8 220.4C780 219.2 778.7 218.7 780.4 218.4C782.1 218.1 781.6 218.4 784 219.6C786.4 220.8 785.6 221.7 787.7 222C789.8 222.3 788.7 221.6 790.4 220.4C792.1 219.2 789.1 219.7 792.8 218.4C796.5 217.1 795.7 217.6 801.5 216.4C807.3 215.2 806.1 215.8 810.3 214.7C814.5 213.6 811.6 214.2 814 213C816.4 211.8 815.2 212 817.6 211.1C820 210.2 818.8 210.7 821.2 210.4C823.6 210.1 822.4 210 824.9 210.3C827.4 210.6 826.2 210.4 828.6 211.4C831 212.4 829.7 213.5 832.2 213.2C834.7 212.9 833.6 212.3 836 210.4C838.4 208.5 836.6 209.1 839.5 207.4C842.4 205.7 840.9 206.7 844.6 205.4C848.3 204.1 846 204.2 850.7 203.4C855.4 202.6 853.3 203 858.6 203C863.9 203 863.3 204.1 866.7 203.4C870.1 202.7 867.6 202.5 868.8 200.8C870 199.1 869.2 199.4 870.4 198.2C871.6 197 870.9 197.7 872.4 197.2C873.9 196.7 872.9 196.5 874.8 196.8C876.7 197.1 875.8 197.5 878 198.2C880.2 198.9 879 199.5 881.3 199C883.6 198.5 882.6 198.3 885 196.6C887.4 194.9 885.5 195.6 888.6 193.9C891.7 192.2 890.5 192.9 894.4 191.4C898.3 189.9 895.9 190.2 900.3 189.5C904.7 188.8 902.7 189.2 907.6 189.2C912.5 189.2 911.6 190 914.9 189.5C918.2 189 915.9 189.1 917.4 187.6C918.9 186.1 918.7 185.9 919.3 185.1"/>
<path class="c" d="M917.8 183.6C919.7 183.3 919.7 183.3 923.6 182.6C927.5 181.9 925.9 182.4 929.5 181.5C933.1 180.6 931.2 181.1 934.4 179.8C937.6 178.5 935.3 182.8 939 177.5C942.7 172.2 941.3 173.2 945.5 164C949.7 154.8 949.5 154.7 951.5 150"/>
<path class="c" d="M919.3 185.1C918.3 184.4 919.3 184.2 916.4 182.9C913.5 181.6 914.5 182.2 910.6 181.2C906.7 180.2 906.7 180.4 904.7 180"/>
<path class="c" d="M958.8 173.8 L939 178.8"/>
<path class="c" d="M946.5 152.5 L958.8 161"/>
<path class="c" d="M725 146C725.1 148.3 725.1 148.3 725.4 153C725.7 157.7 723.1 151.7 726 160C728.9 168.3 728.8 166.3 734 178C739.2 189.7 738.2 187.4 741.7 195C745.2 202.6 744.1 197.3 744.6 200.8C745.1 204.3 743.9 202.5 743.2 205.4C742.5 208.3 742.3 206.8 742.4 209.6C742.5 212.4 742.6 211.1 743.6 213.8C744.6 216.5 744.7 216.3 745.3 217.6"/>
<path class="c" d="M765 135 L767.5 147.5"/>
<path class="c" d="M806.5 124C810.3 132.3 810.5 132 818 149C825.5 166 825.1 162.7 829 175C832.9 187.3 829.5 178.5 829.8 186C830.1 193.5 829.9 193.7 830 197.5"/>
<path class="c" d="M847.8 123.8 L872.8 171"/>
<path class="c" d="M879 117.5C879.5 122 878.9 121.8 880.6 131C882.3 140.2 880.7 135.7 884 145C887.3 154.3 885.5 149.8 890.5 159C895.5 168.2 893.5 165.5 899 172.5C904.5 179.5 901.2 175.8 907 180C912.8 184.2 913.3 183.3 916.5 185"/>
<path class="c" d="M897.5 143C898.8 139 897.8 137.2 901.5 131C905.2 124.8 903.7 126.8 908.5 124.5C913.3 122.2 911.2 122.5 916 124C920.8 125.5 918.7 123.7 923 129C927.3 134.3 925.8 131.3 929 140C932.2 148.7 931.7 145.7 932.5 155C933.3 164.3 933.7 160.8 931.5 168C929.3 175.2 930.5 172.7 926 176.5C921.5 180.3 923.2 179.7 918 179.5C912.8 179.3 914.8 179.2 910.5 176C906.2 172.8 906.8 172 905 170"/>
<path class="c" d="M752.5 152.5C753.2 154.2 752.8 154.7 754.5 157.5C756.2 160.3 754.3 160.6 757.5 161C760.7 161.4 759.8 159.8 764 158.6C768.2 157.4 765.7 157 770 157.5C774.3 158 772.8 157.5 777 160C781.2 162.5 780 161.7 782.5 165C785 168.3 783.6 166.7 784.4 170C785.2 173.3 782.8 169.8 785 175C787.2 180.2 786.8 178.5 791 185.5C795.2 192.5 795.3 192.5 797.5 196"/>
<path class="c" d="M770 147.5C772 146.3 771.8 145.7 776 144C780.2 142.3 778 142.3 782.5 142.5C787 142.7 785.3 142.1 789.5 144.6C793.7 147.1 792.8 145.9 795 150C797.2 154.1 795.9 152 796.2 157C796.5 162 796.1 162.3 796 165"/>
<path class="c" d="M791.5 153.5C790.2 154 790.1 155.3 787.5 155C784.9 154.7 785 154.7 783.6 152.5C782.2 150.3 782.4 150.7 783.4 148.5C784.4 146.3 785.5 146.8 786.6 146"/>
<path class="c" d="M778 175.6C776.2 176.1 776 177.7 772.5 177C769 176.3 769.7 176.5 767.4 173.5C765.1 170.5 765.5 171.4 765.6 168C765.7 164.6 766.9 164.9 767.6 163.4"/>
<path class="c" d="M785 175 L783.8 190"/>
<path class="c" d="M825.6 238.1C822.9 236.9 824.2 235.9 817.6 234.4C811 232.9 811.8 233.1 805.9 233.7C800 234.3 803.4 234 800 236.2C796.6 238.4 798 237 795.7 240.3C793.4 243.6 794.2 242.1 793 246C791.8 249.9 792 247.7 792 251.9C792 256.1 791.8 254.2 793 258.6C794.2 263 793.4 260.8 795.7 265.1C798 269.4 796.6 267.5 800 271.4C803.4 275.3 801.6 273.6 805.9 276.8C810.2 280 808.1 278.8 813 281C817.9 283.2 815.9 282.6 820.5 283.3C825.1 284 822.9 283.9 826.8 283.2C830.7 282.5 829 283.3 832.2 281.1C835.4 278.9 834.2 280 836.4 276.6C838.6 273.2 837.7 275.2 838.8 270.9C839.9 266.6 839.6 268.5 839.8 263.6C840 258.7 839.6 258.7 839.5 256.3"/>
<path class="c" d="M874.8 226.7C872.1 225.2 872.8 224 866.7 222.3C860.6 220.6 861.6 221.2 856.5 221.6C851.4 222 854.6 221.7 851.4 223.4C848.2 225.1 849.5 224 847 226.7C844.5 229.4 845.5 228 843.8 231.4C842.1 234.8 842.6 232.8 841.9 236.9C841.2 241 841.3 239.2 841.8 243.6C842.3 248 841.9 245.9 843.4 250.1C844.9 254.3 844 252.3 846.4 256.2C848.8 260.1 847.4 258.5 850.7 261.8C854 265.1 852.3 263.6 856.2 266C860.1 268.4 858.1 267.5 862.4 269.1C866.7 270.7 864.6 270.1 869 270.8C873.4 271.5 871.8 271.7 875.5 271.2C879.2 270.7 877.3 271.1 880.2 269.4C883.1 267.7 881.9 268.6 884.3 266.1C886.7 263.6 885.7 264.9 887.4 262C889.1 259.1 888.5 260.4 889.4 257.4C890.3 254.4 890 255.9 890.2 253C890.4 250.1 890.6 251.5 890.1 248.6C889.6 245.7 889.1 245.7 888.6 244.2"/>
<path class="c" d="M924.4 212.8C921.7 211.4 922.5 210.2 916.4 208.5C910.3 206.8 911.2 207.3 906.2 207.7C901.2 208.1 904.3 207.9 901.4 209.6C898.5 211.3 899.8 210.3 897.4 212.8C895 215.3 895.9 214 894.2 217.2C892.5 220.4 893 218.6 892.3 222.3C891.6 226 891.8 224.3 892 228.2C892.2 232.1 891.9 230.1 893 234C894.1 237.9 893.4 236.1 895.4 240C897.4 243.9 896.2 242.2 898.9 245.7C901.6 249.2 900.2 247.7 903.6 250.6C907 253.5 905.1 252.4 909.1 254.5C913.1 256.6 911.2 255.8 915.6 256.8C920 257.8 918.2 257.6 922.2 257.4C926.2 257.2 924.2 257.4 927.6 256.2C931 255 929.7 255.8 932.4 253.7C935.1 251.6 933.8 252.7 935.8 250C937.8 247.3 937 248.6 938.3 245.7C939.6 242.8 939.1 244.3 939.6 241.4C940.1 238.5 940.1 240.6 939.7 236.9C939.3 233.2 938.8 232.6 938.3 230.4"/>
<path class="c" d="M959 193.9C956 194.9 954.3 194.8 950 196.8C945.7 198.8 948.4 197.6 946.2 200C944 202.4 944.9 201.2 943.4 204.1C941.9 207 942.3 205.6 941.6 208.8C940.9 212 941.1 210 941.2 213.6C941.3 217.2 941 215.7 942 219.6C943 223.5 942.3 221.6 944.1 225.3C945.9 229 945 227.2 947.4 230.6C949.8 234 947.5 232.4 951.4 235.5C955.3 238.6 956.5 238.4 959 239.9"/>
<path class="c" d="M671.9 200.6C672.7 200.9 672.8 200.7 674.2 201.6C675.6 202.5 675.1 201.9 676.1 203.2C677.1 204.5 676.8 203.9 677.2 205.6C677.6 207.3 677.8 206.9 677.2 208.4C676.6 209.9 676.8 209.2 675.4 210.2C674 211.2 674.3 210 673 211.5C671.7 213 672.3 212.5 671.6 214.6C670.9 216.7 671.2 216 670.9 217.8C670.6 219.6 670.4 218 670.8 220C671.2 222 671.1 221.4 672 223.8C672.9 226.2 672.4 225.2 673.4 227.3C674.4 229.4 674 228.3 675 230C676 231.7 676 230.9 676.5 232.5C677 234.1 676.7 233.4 676.4 234.8C676.1 236.2 676.6 235 675.5 236.7C674.4 238.4 674.8 237.7 673 239.8C671.2 241.9 671.9 240.5 670.2 242.9C668.5 245.3 669.4 244.2 668 247C666.6 249.8 667.3 247.8 666.1 251.3C664.9 254.8 665.5 253.3 664.4 257.5C663.3 261.7 663.7 260 662.9 263.8C662.1 267.6 662.5 265.5 662 269C661.5 272.5 661.8 271.7 661.4 274.2C661 276.7 661.3 275.2 660.8 276.6C660.3 278 660.9 278.2 659.8 278.4C658.7 278.6 659 277.7 657.6 277.2C656.2 276.7 656.8 276 655.6 276.8C654.4 277.6 655 277.7 654 279.6C653 281.5 653.8 281.7 652.5 282.6C651.2 283.5 651.7 282.8 650 282.4C648.3 282 648.2 281.8 647.3 281.5"/>
<path class="c" d="M681.7 220C681.9 221.1 682.2 221.1 682.4 223.2C682.6 225.3 682.6 224.6 682.2 226.3C681.8 228 682.1 227.2 681.2 228.4C680.3 229.6 680.1 229.4 679.6 229.9"/>
<path class="s" d="M636 260C637.3 262.3 636.2 259.8 640 267C643.8 274.2 644.9 276.7 647.3 281.5"/>
<path class="c" d="M628.8 260 L640 288.1"/>
<path class="c" d="M690.1 234.1C689.1 234.4 689 234.1 687.2 235C685.4 235.9 686.5 235.2 684.8 236.7C683.1 238.2 683.8 237.5 682.2 239.6C680.6 241.7 680.6 240.6 680.1 242.9C679.6 245.2 680.1 244.2 680.6 246.6C681.1 249 681.4 248.1 681.7 250.2C682 252.3 681.8 251 681.6 252.8C681.4 254.6 681 253.5 681.2 255.5C681.4 257.5 681.3 256.7 682.2 258.8C683.1 260.9 682.5 260.1 683.8 261.7C685.1 263.3 684.5 262.6 686.2 263.6C687.9 264.6 687.8 263.3 689 264.8C690.2 266.3 689.4 265.9 689.8 268C690.2 270.1 689.2 269.1 690.1 271.1C691 273.1 690.7 272.3 692.4 274C694.1 275.7 693.3 275.6 695.3 276.3C697.3 277 696.3 276.5 698.4 276C700.5 275.5 700.4 276.6 701.5 274.7C702.6 272.8 701.8 273.3 701.8 270.4C701.8 267.5 700.8 268.2 701.5 265.9C702.2 263.6 702.3 265 704 263.6C705.7 262.2 705.4 263.4 706.7 261.7C708 260 707.3 260.7 707.8 258.6C708.3 256.5 708.5 257.8 708.3 255.5C708.1 253.2 708.1 254.2 707.2 251.8C706.3 249.4 706.7 250.3 705.7 248.2C704.7 246.1 705.2 247.4 704.2 245.6C703.2 243.8 703.5 244.8 702.6 242.9C701.7 241 702.3 241.9 701.4 240C700.5 238.1 701.1 237.7 700 237.2C698.9 236.7 699.4 237.9 698.2 238.4C697 238.9 697.5 239.1 696.3 238.8C695.1 238.5 695.6 238.5 694.6 237.4C693.6 236.3 694.2 236.5 693.2 235.6C692.2 234.7 692.6 235.1 691.6 234.6C690.6 234.1 690.6 234.3 690.1 234.1"/>
<path class="c" d="M707.8 264.8C708.3 265.5 708.2 265.7 709.2 266.8C710.2 267.9 709.6 267.7 710.9 268C712.2 268.3 711.6 268 713 267.6C714.4 267.2 713.6 266 715.1 266.9C716.6 267.8 716 268 717.4 270.4C718.8 272.8 717.4 269.5 719.3 274.2C721.2 278.9 720.6 277.7 723 284.6C725.4 291.5 725.4 291.5 726.6 295"/>
<path class="c" d="M701.5 274.7C701.9 275.7 701.7 275.9 702.8 277.8C703.9 279.7 703 278.2 704.7 280.5C706.4 282.8 705.7 281.8 707.8 284.6C709.9 287.4 709.4 286.4 710.9 288.8C712.4 291.2 711.5 289.7 712.2 291.8C712.9 293.9 712.7 293.9 713 295"/>
<path class="c" d="M682.2 276.3C682 277.3 681.8 277.3 681.6 279.4C681.4 281.5 681.2 280.5 681.7 282.6C682.2 284.7 682 283.7 683 285.8C684 287.9 684.3 286.7 684.8 288.8C685.3 290.9 684.9 289.9 684.6 292C684.3 294.1 684.1 294 683.8 295"/>
<path class="c" d="M682.2 276.3C683 276.2 683 275.8 684.6 276C686.2 276.2 685.5 275.9 686.9 276.8C688.3 277.7 687.7 277.2 688.8 278.8C689.9 280.4 689.4 278.9 690.1 281.5C690.8 284.1 690.5 283.1 690.8 286.6C691.1 290.1 690.7 289.6 691.1 292C691.5 294.4 691.3 292.8 692 293.8C692.7 294.8 692.8 294.6 693.2 295"/>
<path class="c" d="M701.5 287.8 L700.5 295"/>
<path class="c" d="M690.1 220 L702.6 228.3 L719.3 240.9"/>
<path class="c" d="M719.3 240.9C720 241.2 720 241.5 721.4 241.8C722.8 242.1 721.9 242 723.4 241.9C724.9 241.8 724.3 241.9 726 241.6C727.7 241.3 727.5 242.6 728.6 240.9C729.7 239.2 729 239.4 729.4 236.6C729.8 233.8 729.7 235.1 729.7 232.5C729.7 229.9 729.6 231.2 729.4 228.8C729.2 226.4 729 226.7 729.2 225.2C729.4 223.7 729.3 224.7 730 224.4C730.7 224.1 729.3 223.5 731.2 224.2C733.1 224.9 732.7 224.9 735.6 226.6C738.5 228.3 738.5 228.5 740 229.4"/>
<path class="s" d="M712 220 L729.2 230.4"/>
<path class="c" d="M738 230.4C737.7 231.9 737.5 231.9 737.2 235C736.9 238.1 736.7 237.3 737 239.8C737.3 242.3 737.2 240.8 738.2 242.4C739.2 244 739.4 243.8 740 244.5"/>
<path class="c" d="M738.8 230C738.4 232 738.1 232.1 737.6 236C737.1 239.9 736.4 238.9 737.3 241.7C738.2 244.5 738 242.9 740.4 244.4C742.8 245.9 741.9 243.7 744.6 246.1C747.3 248.5 746.2 247.7 748.6 251.6C751 255.5 750.3 253.1 751.9 257.8C753.5 262.5 752.7 260.5 753.4 265.8C754.1 271.1 752.9 270.3 754.1 273.8C755.3 277.3 755.1 274.7 757 276.2C758.9 277.7 758.8 276.4 759.9 278.2C761 280 760.4 279.4 760.4 281.6C760.4 283.8 760.9 283.4 759.9 284.8C758.9 286.2 759.1 285.3 757.4 285.8C755.7 286.3 755.9 283.8 754.8 286.2C753.7 288.6 754.4 288.4 754.2 293C754 297.6 754.1 297.7 754.1 300"/>
<path class="c" d="M764.3 230 L781.1 267.3"/>
<path class="c" d="M781.1 267.3C781.5 268.4 781.9 268.4 782.4 270.6C782.9 272.8 783 271.7 782.6 273.8C782.2 275.9 782.2 274.8 781.2 276.8C780.2 278.8 780.2 277.5 779.6 279.7C779 281.9 779.4 281 779.4 283.4C779.4 285.8 780.1 285.5 779.6 287C779.1 288.5 779 287.3 777.8 287.8C776.6 288.3 776.5 287.5 776 288.4C775.5 289.3 775.9 289.2 776.4 290.4C776.9 291.6 777 290 777.4 292.1C777.8 294.2 777.5 293.6 777.6 296.6C777.7 299.6 777.7 299.5 777.8 301"/>
<path class="c" d="M777.8 301 L757.8 302.5"/>
<path class="c" d="M754.1 300C755.3 300.8 756.6 299.2 757.8 302.5C759 305.8 758 305 757.6 310C757.2 315 757.7 312.8 756.5 317.5C755.3 322.2 755.7 319.8 754 324C752.3 328.2 753.7 326.7 751.5 330C749.3 333.3 750 331.5 747.5 334C745 336.5 745.5 333.5 744 337.5C742.5 341.5 743.4 340.2 743 346C742.6 351.8 742.9 352 742.8 355"/>
<path class="c" d="M742.8 355 L736.5 356"/>
<path class="c" d="M736.5 356C737.5 361.7 737 361.7 739.5 373C742 384.3 742.5 384.3 744 390"/>
<path class="c" d="M682.2 285C682.7 285.9 682.9 285.9 683.8 287.6C684.7 289.3 684.5 288.6 684.8 290.2C685.1 291.8 684.9 291 684.6 292.4C684.3 293.8 685 293.1 683.8 294.4C682.6 295.7 682.7 295 681 296.4C679.3 297.8 680.2 296.7 678.6 298.6C677 300.5 677.6 299.6 676.2 302C674.8 304.4 675.4 302.6 674.4 305.9C673.4 309.2 673.9 307.8 673.2 312C672.5 316.2 672.9 315.9 672.3 318.4C671.7 320.9 670.3 318.3 671.3 319.4C672.3 320.5 672.6 320.2 675.4 321.6C678.2 323 677.7 322.9 679.6 323.6C681.5 324.3 680.7 323.6 681.2 323.6"/>
<path class="c" d="M681.2 323.6C681.2 322.5 681 322.5 681.2 320.4C681.4 318.3 681.1 319.4 681.7 317.3C682.3 315.2 682 316.1 683 314C684 311.9 683.2 312.6 684.8 311.1C686.4 309.6 685.7 310.3 687.8 309.4C689.9 308.5 688.8 308.5 691.1 308.5C693.4 308.5 692.4 308.5 694.8 309.4C697.2 310.3 696.1 309.6 698.4 311.1C700.7 312.6 699.7 311.9 701.8 314C703.9 316.1 703 314.8 704.7 317.3C706.4 319.8 705.6 318.6 707 321.4C708.4 324.2 707.8 322.9 708.8 325.7C709.8 328.5 709.3 327 710 329.8C710.7 332.6 710.5 331.3 710.9 334C711.3 336.7 711 335.4 711.2 338C711.4 340.6 711.3 340.5 711.4 341.8"/>
<path class="c" d="M681.2 323.6C682.7 323.3 682.6 323.5 685.6 322.8C688.6 322.1 687.9 323.9 690.1 321.5C692.3 319.1 690.8 319.5 692.2 315.5C693.6 311.5 693.5 311.5 694.2 309.5"/>
<path class="c" d="M690.6 285C690.5 286.2 690.4 286.2 690.4 288.6C690.4 291 688.9 290 690.6 292.3C692.3 294.6 692.2 293.5 695.5 295.6C698.8 297.7 698.6 299.3 700.5 298.6C702.4 297.9 700.9 296.9 701.2 293.4C701.5 289.9 700.9 290.3 701.5 288.1C702.1 285.9 701.9 287.3 703 286.8C704.1 286.3 703.4 286.2 704.7 286.6C706 287 705.6 286.8 707 288C708.4 289.2 707.9 288.4 708.8 290.2C709.7 292 709.2 291.3 709.6 293.4C710 295.5 710.3 294 709.9 296.5C709.5 299 709.5 298 708.4 300.8C707.3 303.6 707 302.5 706.7 304.8C706.4 307.1 706.7 305.9 707.4 307.6C708.1 309.3 707.6 307.8 708.8 310C710 312.2 709.6 311.4 711 314.2C712.4 317 711.6 315.1 713 318.4C714.4 321.7 713.8 320.2 715.2 324C716.6 327.8 716.2 325.3 717.2 329.8C718.2 334.3 717.7 332.4 718.2 337.6C718.7 342.8 718.5 342.9 718.7 345.5"/>
<path class="c" d="M707.8 285C708.5 286.3 708.6 286.2 710 289C711.4 291.8 710.8 290.1 712 293.3C713.2 296.5 712.6 295.1 713.6 298.6C714.6 302.1 713.4 299.4 715.1 303.8C716.8 308.2 716.2 306.6 718.6 311.8C721 317 719.9 315.2 722.4 319.4C724.9 323.6 723.6 321.3 726 324.4C728.4 327.5 728.5 327.3 729.7 328.8"/>
<path class="c" d="M723.4 285C724.3 287.6 724.5 287.6 726.2 292.8C727.9 298 727.4 295.4 728.6 300.6C729.8 305.8 729.1 303.2 729.8 308.4C730.5 313.6 730.4 306.8 730.7 316.3C731 325.8 730.7 323.1 730.7 337C730.7 350.9 730.7 351 730.7 358"/>
<path class="s" d="M711.4 341.8 L730.2 352.3"/>
<path class="c" d="M640 288.1C640.9 289.7 640.9 289.7 642.6 292.8C644.3 295.9 642.6 292.1 645.2 297.5C647.8 302.9 646.9 301.3 650.4 309C653.9 316.7 653.7 315.6 655.6 320.5C657.5 325.4 656 321.5 656.2 323.6C656.4 325.7 656.5 324.9 656.2 326.7C655.9 328.5 656.1 327.6 655.2 329C654.3 330.4 654.7 330.1 653.6 330.9C652.5 331.7 653 331.2 651.8 331.4C650.6 331.6 650.6 329.7 649.9 331.4C649.2 333.1 649.8 333.1 649.8 336.4C649.8 339.7 650.2 339.3 649.9 341.3C649.6 343.3 649.7 341.9 648.8 342.4C647.9 342.9 647.8 342.1 647.3 342.9C646.8 343.7 647 343.6 647.2 344.8C647.4 346 646.7 345.3 647.8 346.5C648.9 347.7 648.7 347.3 650.6 348.4C652.5 349.5 651.2 349.6 653.6 349.7C656 349.8 655 349.3 657.8 348.6C660.6 347.9 659.5 347.9 661.9 347.6C664.3 347.3 662.9 347.4 665 347.6C667.1 347.8 666.5 348.2 668.2 348.1C669.9 348 669 348.1 670 347.2C671 346.3 670.9 346.1 671.3 345.5"/>
<path class="c" d="M645.2 298C644.4 298.7 644.2 298.6 642.8 300.2C641.4 301.8 640.7 299.8 641 302.7C641.3 305.6 641.8 304.8 643.6 309C645.4 313.2 644 312.3 646.3 315.2C648.6 318.1 647.6 316.2 650.4 317.6C653.2 319 653.2 318.8 654.6 319.4"/>
<path class="c" d="M663.5 313.7C664.4 314.2 664.5 314.2 666.2 315.2C667.9 316.2 667.9 314.1 668.7 316.8C669.5 319.5 668.7 319.1 668.7 323.4C668.7 327.7 669.2 327.7 668.7 329.8C668.2 331.9 666.9 329.1 667.1 329.8C667.3 330.5 668 330.4 669.4 331.8C670.8 333.2 670.6 331.5 671.3 334C672 336.5 671.4 335.7 671.6 339.2C671.8 342.7 671.7 342.7 671.8 344.4"/>
<path class="c" d="M671.3 345.5 L692.1 339.2 L709.9 333.5"/>
<path class="c" d="M730.7 358C731.5 364.7 730.7 365.7 733 378C735.3 390.3 734.9 387.8 737.5 395C740.1 402.2 738.3 397.1 740.8 399.6C743.3 402.1 743.6 401.5 745 402.5"/>
<path class="c" d="M745 402.5 L781.5 397.5 L785 391 L894 363.8 L924 365"/>
<path class="c" d="M777.4 292.1 L789.9 290.6 L794.2 297.2 L799 305 L831.5 296 L841.5 300 L856.5 288.8 L871.8 285 L882.8 282.2 L887.2 285"/>
<path class="c" d="M900.3 285 L904.7 282.2 L907.6 276.4 L933.9 269.1 L941.2 273.4 L952.9 270.5 L955.8 261.8 L959 259.6"/>
<path class="c" d="M831.5 296C827 300.5 826.8 300.7 818 309.5C809.2 318.3 809.9 316.5 805 322.5C800.1 328.5 804.1 324.2 803.4 327.5C802.7 330.8 803 330.8 802.8 332.5"/>
<path class="c" d="M856.5 292.5 L822.8 330"/>
<path class="c" d="M884 287.5 L854 321"/>
<path class="c" d="M904.7 282.2 L872.8 317.5"/>
<path class="c" d="M932.4 269.8 L913 294"/>
<path class="c" d="M924 287.5 L896.5 320"/>
<path class="c" d="M952.9 270.5 L929 297.5"/>
<ellipse class="c" cx="857.8" cy="303.8" rx="10" ry="4.4" transform="rotate(-22 857.8 303.8)"/>
<ellipse class="c" cx="909" cy="291" rx="10" ry="4.8" transform="rotate(-22 909 291)"/>
<ellipse class="c" cx="835.5" cy="336" rx="10" ry="4.6" transform="rotate(-20 835.5 336)"/>
<ellipse class="c" cx="882.8" cy="325" rx="10" ry="4.6" transform="rotate(-20 882.8 325)"/>
<path class="c" d="M819 340 L812.8 370"/>
<path class="c" d="M849 333.8 L844 365"/>
<path class="c" d="M866.5 327.5 L860 357.5"/>
<path class="c" d="M896.5 322.5 L891.5 350"/>
<path class="s" d="M916.5 332.5 L916.5 347.5"/>
<path class="c" d="M904 325C906.7 324.5 907 324.3 912 323.5C917 322.7 914.2 321.8 919 322.5C923.8 323.2 921.5 323.4 926.5 325.5C931.5 327.6 927.5 328.6 934 328.8C940.5 329 937.7 328.1 946 326C954.3 323.9 954.5 323.7 958.8 322.5"/>
<path class="c" d="M904 330C908.7 330.8 908.8 330.8 918 332.5C927.2 334.2 922.5 334.8 931.5 335C940.5 335.2 935.9 334.7 945 333C954.1 331.3 954.2 331 958.8 330"/>
<path class="c" d="M911.5 303.8 L916 315 L916.5 332.5"/>
<path class="s" d="M776.5 370 L784 372 L791.5 370 L799 372.5 L806.5 375"/>
<path class="s" d="M811.5 370C813 370.2 813.5 369.8 816 370.6C818.5 371.4 817.4 370.9 819 372.5C820.6 374.1 820 373.4 820.8 375.5C821.6 377.6 821.3 377.7 821.5 378.8"/>
<path class="s" d="M821.5 378.8 L841.5 372.5"/>
<path class="s" d="M841.5 372.5C841.7 371 840.3 370.4 842 368C843.7 365.6 843.5 365.2 846.5 365.2C849.5 365.2 849.3 366.1 851 368C852.7 369.9 851.3 370 851.5 371"/>
<path class="t" d="M846 369.5 q1.5 -1 1.5 1 q-1.5 1.5 0.5 2.5"/>
<path class="s" d="M856.5 357.5C858 357.7 858.5 357.2 861 358C863.5 358.8 862.2 358.3 864 360C865.8 361.7 865.1 361 866.4 363C867.7 365 867.3 365 867.8 366"/>
<path class="s" d="M867.8 366 L886.5 360"/>
<path class="s" d="M889 348.8C890.5 349.2 891 348.8 893.5 350C896 351.2 894.9 350.7 896.5 352.5C898.1 354.3 897.4 353.4 898.2 355.5C899 357.6 898.7 357.7 899 358.8"/>
<path class="s" d="M899 358.8 L916.5 352.5 L922.8 355"/>
<path class="s" d="M754.8 366 L754.8 398.8"/>
<path class="s" d="M776 352.5 L776 390"/>
<path class="s" d="M792 345 L792 370"/>
<path class="s" d="M719 345 L730 352.5"/>
<path class="c" d="M780 377.5 L790 380 L792.8 390"/>
<ellipse class="c" cx="750" cy="393.8" rx="5" ry="5"/>
<path class="c" d="M755 395C758.7 395.2 759.3 395.9 766 395.5C772.7 395.1 771.5 395.6 775 393.8C778.5 392 776.1 392.9 776.6 390C777.1 387.1 776.5 386.7 776.5 385"/>
<ellipse class="t" cx="912.8" cy="303.8" rx="1.5" ry="1.5"/>
<path class="c" d="M531.8 452.5C540.5 450.2 540.3 450.3 558 445.6C575.7 440.9 568.3 442.8 585 438.4C601.7 434 592.6 436.4 608 432.4C623.4 428.4 621.6 428.5 631.2 426.3C640.8 424.1 633.1 425.8 636.8 425.8C640.5 425.8 636.9 427 642.3 426.3C647.7 425.6 645.9 425.4 653 423.6C660.1 421.8 658.6 421.9 663.6 420.9C668.6 419.9 665.2 420.5 668 420.5C670.8 420.5 669.7 420.5 672 420.9C674.3 421.3 673.2 421.1 674.8 421.8C676.4 422.5 676.2 422.6 676.9 423"/>
<path class="c" d="M531.8 452.5C530.4 453.2 530 452.9 527.5 454.6C525 456.3 526.1 455.3 524.3 457.6C522.5 459.9 523.3 458.9 522.2 461.4C521.1 463.9 522.2 462.9 520.9 465.1C519.6 467.3 520.3 466.3 518.4 468C516.5 469.7 517.4 468.8 515.1 470.1C512.8 471.4 513.9 471 511.4 471.8C508.9 472.6 510.1 473 507.6 472.6C505.1 472.2 506.2 472.3 504 470.6C501.8 468.9 503 469.1 500.9 467.6C498.8 466.1 499.8 466.6 497.6 466C495.4 465.4 496.9 465.6 494.2 465.9C491.5 466.2 492.5 465.7 489.4 466.8C486.3 467.9 488.3 466.8 485 469.2C481.7 471.6 482.7 470.4 479.4 474C476.1 477.6 477.3 476.1 475 480.1C472.7 484.1 473.7 482.1 472.6 486C471.5 489.9 472 487.1 471.7 491.8C471.4 496.5 471.3 494.4 471.6 500C471.9 505.6 471.4 502.7 472.5 508.5C473.6 514.3 472.8 511.9 474.8 517.5C476.8 523.1 476 521.2 478.4 525.2C480.8 529.2 479.2 527.4 482 529.6C484.8 531.8 483.7 530.9 486.7 531.8C489.7 532.7 488.2 532.4 491 532.4C493.8 532.4 493.7 532 495.1 531.8"/>
<path class="c" d="M495.1 531.8 L585 506.8"/>
<path class="c" d="M676.9 423C676.6 422.3 676.2 422.2 676 421C675.8 419.8 675.5 420.8 676.2 419.5C676.9 418.2 676.6 418.4 678 417C679.4 415.6 678.8 416 680.3 415.3C681.8 414.6 681 414.8 682.4 414.8C683.8 414.8 683.1 414.6 684.5 415.3C685.9 416 685.4 415.6 686.6 416.8C687.8 418 685.3 413.9 688 418.8C690.7 423.7 690.2 423 694.6 431.6C699 440.2 698.5 439.8 701.2 444.5C703.9 449.2 701.9 444.9 702.8 445.8C703.7 446.7 702.7 444.7 704 447.3C705.3 449.9 705 449.3 706.6 453.5C708.2 457.7 708.2 456.8 708.8 459.8C709.4 462.8 709.1 461 708.4 462.4C707.7 463.8 710.1 462.7 706.8 464C703.5 465.3 704.1 464.8 698.5 466.2C692.9 467.6 694.1 467.5 690.1 468.2C686.1 468.9 688.7 468.4 686.4 468.2C684.1 468 684.8 467.3 683.1 467.5C681.4 467.7 682.3 467.7 681.4 468.8C680.5 469.9 681 469 680.3 470.9C679.6 472.8 680.1 472.2 679.2 474.5C678.3 476.8 678.9 476.3 677.6 477.9C676.3 479.5 677.1 478.7 675.2 479.2C673.3 479.7 675.9 480.4 672 479.3C668.1 478.2 669.1 478.3 663.5 476C657.9 473.7 659.3 474.1 655.3 472.3C651.3 470.5 653.9 471.8 651.4 470.6C648.9 469.4 650.5 470.7 647.9 468.7C645.3 466.7 646.4 467.4 643.6 464.6C640.8 461.8 640.9 461.7 639.5 460.3"/>
<path class="c" d="M490.9 473.4C490.1 474.1 489.4 473.9 488.6 475.6C487.8 477.3 487.1 473.8 488.4 478.4C489.7 483 489.7 482.3 492.5 489.5C495.3 496.7 494.7 495.3 496.7 500.1C498.7 504.9 497.2 501.6 498.6 503.8C500 506 499 505.1 500.9 506.8C502.8 508.5 501.9 507.7 504.4 508.8C506.9 509.9 505.9 509.6 508.4 510.1C510.9 510.6 509.6 510.4 511.8 510.4C514 510.4 513.1 510.6 515.1 510.1C517.1 509.6 516.1 509.4 517.8 508.9C519.5 508.4 518.4 507.9 520.1 508.5C521.8 509.1 521.1 509.1 522.8 510.8C524.5 512.5 523.4 512 525.1 513.5C526.8 515 526.1 514.6 528 515.4C529.9 516.2 529.2 516.3 530.9 516C532.6 515.7 532.1 516 533.2 514.6C534.3 513.2 534.4 515.3 534.3 511.8C534.2 508.3 533.9 509 532.8 504C531.7 499 531.8 500.3 530.9 496.8C530 493.3 530.4 494.5 530.1 493.4"/>
<path class="c" d="M530.1 493.4 L546.8 490.1"/>
<path class="c" d="M546.8 490.1C547.7 490.7 547.9 490.4 549.6 491.8C551.3 493.2 548.8 493 551.8 494.3C554.8 495.6 554 495 558.5 495.8C563 496.6 561.8 495.7 565.2 496.8C568.6 497.9 566.6 497.3 568.8 499C571 500.7 569.7 500.5 571.8 501.8C573.9 503.1 573 502.5 575.2 502.8C577.4 503.1 576.6 503.4 578.5 502.6C580.4 501.8 579.7 502.3 580.8 500.4C581.9 498.5 582 500.6 581.9 496.8C581.8 493 581.5 494 580.4 489C579.3 484 579.1 484.2 578.5 481.8"/>
<path class="c" d="M578.5 481.8 L596.4 478.4"/>
<path class="c" d="M596.4 478.4C597.3 479.3 596.4 479.1 599.2 481.2C602 483.3 600.2 482.4 604.8 484.7C609.4 487 607.4 485.9 613 488.2C618.6 490.5 617.3 490.7 621.5 491.6C625.7 492.5 623.2 492.2 625.6 490.9C628 489.6 627.2 490.1 628.6 487.8C630 485.5 630.1 486.7 629.8 484C629.5 481.3 629.2 482.4 627.8 479.6C626.4 476.8 627 477.9 625.6 475.6C624.2 473.3 624.5 474.7 623.6 472.8C622.7 470.9 622.8 471.7 622.9 470C623 468.3 622.9 469 623.8 467.6C624.7 466.2 623.2 467.1 625.6 465.9C628 464.7 627.3 465.2 631 464C634.7 462.8 634.9 462.9 636.8 462.4"/>
<path class="c" d="M490.9 473.4C491.6 473.3 491.6 473 493 473C494.4 473 491.1 472.1 495.1 473.4C499.1 474.7 498.3 474.6 505 476.8C511.7 479 509.4 478.4 515.1 480.1C520.8 481.8 517.6 480.9 522 482C526.4 483.1 523.9 483.5 528.4 483.4C532.9 483.3 530.8 483 535.5 481.6C540.2 480.2 540.6 481.3 542.6 479.3C544.6 477.3 542.4 478 541.6 475.5C540.8 473 541.3 474.1 540.1 471.7C538.9 469.3 539.1 470.6 538 468.4C536.9 466.2 536.6 467.1 536.8 465.1C537 463.1 536.9 463.8 538.6 462.4C540.3 461 539 461.2 541.8 460.9C544.6 460.6 543.7 460.8 547 461.4C550.3 462 546.8 460.8 551.8 462.6C556.8 464.4 555.3 464 562 466.8C568.7 469.6 566.3 469.8 571.8 470.9C577.3 472 574.1 470.8 578.5 470C582.9 469.2 581.1 469.4 585 468.4C588.9 467.4 588.7 467.1 590.2 467C591.7 466.9 589.7 467.7 589.5 468"/>
<path class="c" d="M590.9 465.9C589.8 465.5 589.5 465.8 587.6 464.8C585.7 463.8 586.4 465.3 585.3 463C584.2 460.7 584.6 461.2 584.2 458C583.8 454.8 583.5 455.9 584 453.4C584.5 450.9 584.3 452 585.6 450.4C586.9 448.8 586 449 588 448.5C590 448 589.2 448.4 591.5 448.9C593.8 449.4 592 449 595 449.9C598 450.8 596.9 450.4 600.6 451.6C604.3 452.8 602.2 452 606.2 453.4C610.2 454.8 608.3 454.2 612.5 455.8C616.7 457.4 615.5 457.3 618.7 458.2C621.9 459.1 619.7 458.6 622 458.6C624.3 458.6 622.1 458.9 625.6 458.2C629.1 457.5 627.9 457.7 632.5 456.6C637.1 455.5 638.1 455.8 639.5 454.8C640.9 453.8 638.4 454.5 636.8 453.6C635.2 452.7 636.1 454.2 634.7 452C633.3 449.8 633.8 450.2 632.6 447C631.4 443.8 631.4 444.8 631.2 442.3C631 439.8 631.1 441 632 439.4C632.9 437.8 632 438.3 634 437.4C636 436.5 635.2 437 638 436.8C640.8 436.6 636.3 436.1 642.3 436.7C648.3 437.3 646.6 437.2 656 438.6C665.4 440 664.7 440.4 670.6 441C676.5 441.6 671.9 441.1 673.8 440.4C675.7 439.7 674.9 441.2 676.2 438.9C677.5 436.6 676.9 437.2 677.8 433.5C678.7 429.8 678.8 430.6 678.9 427.8C679 425 678.9 426.8 678.2 425.2C677.5 423.6 677.3 423.7 676.9 423"/>
<g transform="rotate(-15 513.4 493.4)"><rect class="c" x="503.6" y="486.9" width="19.6" height="13" rx="4.6"/></g>
<g transform="rotate(-15 561 480.9)"><rect class="c" x="551.2" y="474.4" width="19.6" height="13" rx="4.6"/></g>
<g transform="rotate(-15 608.2 468)"><rect class="c" x="598.4" y="461.5" width="19.6" height="13" rx="4.6"/></g>
<g transform="rotate(-15 663.6 454.2)"><rect class="c" x="650.3" y="447.7" width="26.6" height="13" rx="4.8"/></g>
<ellipse class="c" cx="688" cy="445.2" rx="6.9" ry="7"/>
<ellipse class="t" cx="683.1" cy="419.5" rx="1.9" ry="1.9"/>
<path class="c" d="M535.1 506.8 L565.2 498.5"/>
<path class="c" d="M583 494 L597 489.6"/>
<path class="c" d="M496.7 492 L502 505.5"/>
<path class="t" d="M511.8 476 L517.5 475 L520 480.2"/>
<path class="s" d="M496.7 500.1 L502.6 508.4"/>
<path class="s" d="M606.9 453.4C607.6 452.7 607.4 452.3 609 451.4C610.6 450.5 609.8 450.5 611.7 450.6C613.6 450.7 612.9 450.7 614.8 451.8C616.7 452.9 615.8 452.1 617.3 454C618.8 455.9 618.7 456.4 619.4 457.6"/>
<path class="c" d="M638.2 457.6C639.2 458.9 639.4 458.8 641.2 461.6C643 464.4 642.6 463.1 643.7 465.9C644.8 468.7 644.4 467.2 644.6 470C644.8 472.8 644.5 472.8 644.4 474.2"/>
<path class="c" d="M650.7 474.9 L656.2 481.2 L657.6 474.2"/>
<path class="s" d="M604.8 485.4C605.3 486.8 605.3 486.8 606.2 489.6C607.1 492.4 606.5 492.2 607.6 493.7C608.7 495.2 608.2 494 609.6 494C611 494 610.6 492.9 611.7 493.7C612.8 494.5 612.1 494.5 613 496.4C613.9 498.3 612.5 497.4 614.5 499.3C616.5 501.2 615.8 500.4 619 502C622.2 503.6 622.5 503.4 624.2 504.1"/>
<path class="c" d="M603.4 497.9C601.9 498.7 601.8 498.6 599 500.4C596.2 502.2 597.5 501.1 595 503.4C592.5 505.7 593.4 504.6 591.6 507.4C589.8 510.2 590.4 509.3 589.5 511.8C588.6 514.3 589.2 512.9 589 514.8C588.8 516.7 588 515.9 588.8 517.5C589.6 519.1 589.3 518.8 591.4 519.6C593.5 520.4 591.6 520.2 595 520C598.4 519.8 597.3 519.8 601.5 519C605.7 518.2 605.5 518 607.5 517.5"/>
<path class="c" d="M611.7 498.6C609.8 499.3 609.7 499 606 500.6C602.3 502.2 603.5 501.4 600.6 503.4C597.7 505.4 599.1 504.3 597.2 506.6C595.3 508.9 595.9 507.6 595 510.4C594.1 513.2 594.4 511.8 594.6 515C594.8 518.2 595.3 518.3 595.7 520"/>
<ellipse class="c" cx="595" cy="540" rx="9.3" ry="15.4" transform="rotate(-6 595 540)"/>
<path class="c" d="M586 525C585.7 527.7 585.2 527.7 585 533C584.8 538.3 584.5 535.7 585.4 541C586.3 546.3 586.1 544.3 587.6 549C589.1 553.7 590.2 552.2 590 555C589.8 557.8 588.7 555.7 587 557.4C585.3 559.1 586.1 557.8 585 560C583.9 562.2 584.2 561.5 583.8 564C583.4 566.5 583.3 565.7 583.8 567.5C584.3 569.3 584.2 568.6 585.4 569.4C586.6 570.2 587.2 567.1 587.5 570C587.8 572.9 587.2 573 586.4 578C585.6 583 586.1 582.4 585 585C583.9 587.6 584.3 585.5 583 585.8C581.7 586.1 581.7 584.3 581 586C580.3 587.7 580.8 587.7 580.8 591C580.8 594.3 579.4 593.2 581 596C582.6 598.8 582.5 597.3 585.5 599.5C588.5 601.7 588.3 600.2 590 602.5C591.7 604.8 590.3 604 590.6 606.5C590.9 609 589.5 607.7 591 610C592.5 612.3 592.4 611.5 595 613.5C597.6 615.5 596.8 616 598.8 616C600.8 616 599.8 615.4 601 613.4C602.2 611.4 601.2 611.1 602.5 610C603.8 608.9 603.3 609.7 605 610C606.7 610.3 606.2 609.8 607.5 611C608.8 612.2 608.2 612.3 609 613.6C609.8 614.9 608.9 614.7 610 615C611.1 615.3 611.1 615.2 612.4 614.4C613.7 613.6 613.1 614.2 613.8 612.5C614.5 610.8 614.2 611.6 614.6 609.4C615 607.2 614.9 607.1 615 606"/>
<path class="c" d="M615 606 L640 597.5"/>
<path class="c" d="M640 597.5C641.3 597.5 642.7 599.3 643.8 597.5C644.9 595.7 643.8 595.3 643.4 592C643 588.7 642.8 589 642.5 587.5"/>
<path class="c" d="M590 555 L610 556"/>
<path class="c" d="M642.5 587.5C643.7 588.9 643.5 589.1 646 591.6C648.5 594.1 647.5 593.3 650 595C652.5 596.7 651.1 596 653.6 596.8C656.1 597.6 654 597.9 657.5 597.5C661 597.1 659.8 597.3 664 595.6C668.2 593.9 667.1 595.5 670 592.5C672.9 589.5 671.3 590.7 672.6 586.5C673.9 582.3 673.8 584.8 673.8 580C673.8 575.2 673.9 577 672.6 572C671.3 567 672 568.8 670 565C668 561.2 669 563.1 666.5 560.6C664 558.1 665.1 558.4 662.5 557.5C659.9 556.6 661.1 557.4 658.6 557.8C656.1 558.2 656.2 558.5 655 558.8"/>
<path class="c" d="M662.5 555C664.2 554.3 664.3 554.5 667.6 552.8C670.9 551.1 669.5 552.1 672.5 550C675.5 547.9 674.1 548.9 676.6 546.4C679.1 543.9 678.3 542.1 680 542.5C681.7 542.9 680.8 544.2 681.6 547.5C682.4 550.8 683.9 550.5 682.5 552.5C681.1 554.5 680.8 553.2 677.5 553.6C674.2 554 674.2 553.7 672.5 553.8"/>
<path class="c" d="M656.2 482.6C658.5 484.7 658.4 484.6 663 488.8C667.6 493 666.2 489.4 670 495.1C673.8 500.8 672 498.5 674.5 506C677 513.5 675.9 509.5 677.5 517.5C679.1 525.5 678.4 521.7 679.2 530C680 538.3 679.7 538.3 680 542.5"/>
<path class="c" d="M670 497.5C672.7 496.7 673 496.2 678 495C683 493.8 681.5 493.6 685 493.8C688.5 494 686.6 493.9 688.6 495.6C690.6 497.3 691.1 495.8 691 498.8C690.9 501.8 690.1 500.8 688.4 504.5C686.7 508.2 686.6 505.7 686 510C685.4 514.3 686.1 512.5 686.6 517.5C687.1 522.5 687.9 520.3 687.5 525C687.1 529.7 687.1 527.3 685.4 531.5C683.7 535.7 683.5 535.5 682.5 537.5"/>
<path class="c" d="M642.5 545C641.3 550.3 641.2 550.2 639 561C636.8 571.8 636.5 570.2 636 577.5C635.5 584.8 636.2 579.7 637.5 583C638.8 586.3 639.2 586 640 587.5"/>
<path class="c" d="M627.5 566 L621 585"/>
<path class="c" d="M603.8 578.8C603.3 580.4 603.7 580.6 602.4 583.5C601.1 586.4 602.3 585.2 600 587.5C597.7 589.8 598.5 588.7 595.5 590.4C592.5 592.1 592.8 590.1 591 592.5C589.2 594.9 590.5 594.2 590.2 597.5C589.9 600.8 590.1 600.8 590 602.5"/>
<path class="c" d="M581 596 L589 596"/>
<path class="c" d="M798.7 522.6C798.3 523.5 798.2 523.7 797.6 525.2C797 526.7 798 525.9 796.8 527.2C795.6 528.5 795.9 528.3 794 529.2C792.1 530.1 793.1 529.9 791.2 530C789.3 530.1 790 530.2 788.4 529.6C786.8 529 787.4 529.5 786.5 528.2C785.6 526.9 785.9 527.5 785.6 525.6C785.3 523.7 784.9 524.9 785.6 522.6C786.3 520.3 786.2 521.1 787.8 518.6C789.4 516.1 788.3 517.5 790.3 515C792.3 512.5 791.3 513.5 793.8 511C796.3 508.5 794.1 509.7 797.8 507.5C801.5 505.3 800 506.3 805 504.4C810 502.5 808 503.9 812.8 501.9C817.6 499.9 815.1 500.9 819.5 498.4C823.9 495.9 822.6 496.2 825.9 494.4C829.2 492.6 827.2 493.6 829.4 493C831.6 492.4 830.8 492.4 832.5 492.5C834.2 492.6 833.5 492.5 834.4 493.4C835.3 494.3 835 493.8 835.3 495.3C835.6 496.8 835.5 496.2 835.2 497.8C834.9 499.4 835.3 498.1 834.3 500C833.3 501.9 833.7 501.2 832.2 503.4C830.7 505.6 830.5 505.5 829.7 506.6"/>
<path class="c" d="M798.7 522.6C799.3 521.3 799 521.1 800.6 518.6C802.2 516.1 800.7 517.1 803.4 515C806.1 512.9 804.9 513.9 808.6 512.4C812.3 510.9 810.1 511.6 814.6 510.4C819.1 509.2 817 509.8 822 508.8C827 507.8 827.1 507.9 829.7 507.5"/>
<path class="s" d="M829.7 506.6C831.8 505.9 831.6 505.9 836 504.6C840.4 503.3 840.5 503.4 842.8 502.8"/>
<path class="c" d="M835.3 500C838.4 498.7 838.4 498.7 844.6 496.2C850.8 493.7 848.3 494.8 854 492.5C859.7 490.2 856.6 491.6 861.6 489.4C866.6 487.2 864.7 488.1 869.1 486C873.5 483.9 871.1 485.1 874.8 483.2C878.5 481.3 877.4 481.6 880.3 480.3C883.2 479 881.5 479.7 883.4 479.4C885.3 479.1 884.6 478.7 885.9 479.4C887.2 480.1 886.8 479.8 887.4 481.4C888 483 888 482.2 887.8 484.1C887.6 486 887.7 485.1 886.8 487C885.9 488.9 885.6 488.8 885 489.7"/>
<path class="c" d="M867.2 496.3C869.7 495.9 869.8 495.9 874.8 495C879.8 494.1 879.1 494.6 882.2 493.5C885.3 492.4 883.1 493.1 884 491.8C884.9 490.5 884.7 490.4 885 489.7"/>
<path class="c" d="M887.8 486C889.7 485.8 889.7 486 893.5 485.4C897.3 484.8 895.6 485.2 899.1 484.1C902.6 483 900.9 483.6 904 482C907.1 480.4 904.2 481.8 908.5 479.4C912.8 477 911.4 477.9 917 474.8C922.6 471.7 920.9 472.5 925.3 470C929.7 467.5 927.1 469 930.2 467.4C933.3 465.8 932.3 466 934.7 465.3C937.1 464.6 935.8 464.9 937.4 465.2C939 465.5 938.4 465.2 939.4 466.3C940.4 467.4 940.1 467 940.4 468.6C940.7 470.2 940.7 469.4 940.3 471C939.9 472.6 940.1 471.9 939.2 473.4C938.3 474.9 938.1 474.9 937.5 475.6"/>
<path class="c" d="M885.9 490.6C888.8 490 888.9 490 894.5 488.8C900.1 487.6 898.1 488.2 902.8 486.9C907.5 485.6 904.8 486.3 908.6 485C912.4 483.7 910.1 484.2 914.1 483.1C918.1 482 916.2 482.5 920.6 481.6C925 480.7 923.7 480.8 927.2 480.3C930.7 479.8 928.5 480.3 931 480C933.5 479.7 932.9 480.1 934.7 479.4C936.5 478.7 935.5 479.1 936.4 477.8C937.3 476.5 937.1 476.3 937.5 475.6"/>
<path class="c" d="M940.3 471 L958.9 465.3"/>
<path class="c" d="M938.4 476.6 L958.9 470"/>
<path class="c" d="M798.7 522.6C800.7 524.9 800.5 525 804.6 529.4C808.7 533.8 806.6 532.2 810.9 535.7C815.2 539.2 813 537.5 817.4 540C821.8 542.5 820.3 541.7 824 543.2C827.7 544.7 825.5 544 828.6 544.6C831.7 545.2 827.7 545.8 833.4 545.1C839.1 544.4 837.5 544.5 845.6 542.6C853.7 540.7 853.7 540.5 857.8 539.4"/>
<path class="c" d="M857.8 539.4 L958.9 511.7"/>
<path class="c" d="M850.4 503.6C851.5 502.2 851.3 501.9 853.6 499.4C855.9 496.9 854.7 497.5 857.2 496C859.7 494.5 858.4 494.9 861 495C863.6 495.1 862.8 494.9 865 496.4C867.2 497.9 866.7 497.4 867.6 499.6C868.5 501.8 868.7 500.2 867.8 503C866.9 505.8 867.1 504.7 865 508C862.9 511.3 862.7 511.2 861.5 512.8"/>
<path class="c" d="M911.9 510C913.1 508.3 913 508.3 915.4 505C917.8 501.7 917.1 502 919 500C920.9 498 919.6 499.4 921 499C922.4 498.6 921.6 498.7 923.2 498.8C924.8 498.9 924.1 498.7 925.8 499.4C927.5 500.1 926.7 499.6 928.2 500.8C929.7 502 929.2 501.3 930.2 503C931.2 504.7 932 502.8 931.1 505.8C930.2 508.8 930 508 927.6 512C925.2 516 925.2 515.9 924 517.9"/>
<ellipse class="c" cx="910" cy="542.5" rx="10" ry="17.4" transform="rotate(-4 910 542.5)"/>
<path class="c" d="M943.2 516.7C942.3 517.5 942.4 517.3 940.4 519C938.4 520.7 939.8 519.7 937.3 521.7C934.8 523.7 935.8 522.8 933 525C930.2 527.2 931.3 526.2 929 528.3C926.7 530.4 927.5 529.2 926 531.2C924.5 533.2 925.1 532.3 924.4 534.2C923.7 536.1 923.9 535.1 923.8 537C923.7 538.9 923.8 537.7 924 540C924.2 542.3 923.9 541.5 924.4 544C924.9 546.5 924.5 545.2 925.5 547.5C926.5 549.8 925.9 548.8 927.4 551C928.9 553.2 927.9 552.2 930 554C932.1 555.8 931.1 555.2 933.8 556.4C936.5 557.6 935.3 557.1 938 557.5C940.7 557.9 939.3 557.9 942 557.6C944.7 557.3 943.4 557.5 946 556.5C948.6 555.5 947.5 556.1 949.8 554.6C952.1 553.1 950.9 553.9 953 552C955.1 550.1 954.1 551.1 956 548.8C957.9 546.5 957.9 546.3 958.8 545"/>
<path class="s" d="M929 530.4C930.3 529.9 930.3 529.5 932.8 528.8C935.3 528.1 934.1 528.1 936.5 528.3C938.9 528.5 937.8 528.3 940 529.4C942.2 530.5 940.8 529.6 943.2 531.7C945.6 533.8 944.7 532.8 947.2 535.6C949.7 538.4 949.2 537.2 950.7 540C952.2 542.8 951.4 541.3 951.8 544C952.2 546.7 952.3 545.3 952 548C951.7 550.7 952 549.7 951 552C950 554.3 949.7 554 949 555"/>
<path class="s" d="M936.5 528.3C936.9 527.3 937 527.3 937.6 525.4C938.2 523.5 938 523.5 938.2 522.5"/>
<path class="c" d="M943.2 516.7C944.3 516.3 944.4 516 946.6 515.4C948.8 514.8 948 514.7 949.8 515C951.6 515.3 950.9 515.1 952 516.2C953.1 517.3 952.8 516.5 953.2 518.3C953.6 520.1 953.5 519.4 953.2 521.6C952.9 523.8 951.6 522.4 952.3 525C953 527.6 953 526.6 955.2 529.4C957.4 532.2 957.7 532 958.9 533.3"/>
<path class="s" d="M955.7 513.3 L957.3 518.3"/>
<path class="s" d="M901.1 528.3 L899 540"/>
<path class="c" d="M886.5 532.5C886.5 536.7 886.4 536.7 886.4 545C886.4 553.3 885.8 552.8 886.5 557.5C887.2 562.2 886.9 558.4 888.6 559.2C890.3 560 890.5 559.7 891.5 560"/>
<path class="c" d="M869 553.8C867.2 554.4 866.8 553.9 863.5 555.6C860.2 557.3 861.2 556.3 859 558.8C856.8 561.3 857.8 560.1 857 563C856.2 565.9 856 564.6 856.5 567.5C857 570.4 856.9 569.1 858.6 571.6C860.3 574.1 860.4 572.2 861.5 575C862.6 577.8 861.8 576.7 861.8 580C861.8 583.3 860.6 581.5 861.5 585C862.4 588.5 862.1 587.2 864.6 590.5C867.1 593.8 865.5 593.5 869 595C872.5 596.5 870.8 595.4 875 595C879.2 594.6 879.3 594.2 881.5 593.8"/>
<path class="c" d="M869 553.8C869.7 555.9 869.3 556.3 871 560C872.7 563.7 870.5 563.2 874 565C877.5 566.8 876.5 565.4 881.5 565.4C886.5 565.4 886.2 563.5 889 565C891.8 566.5 889.7 566.7 890 570C890.3 573.3 890 573.3 890 575"/>
<path class="c" d="M882.8 587.5 L891.5 586"/>
<path class="c" d="M882.8 587.5 L884 597.5 L890 596"/>
<path class="c" d="M884 597.5C885 598.7 885.3 598.5 887 601C888.7 603.5 888.5 602.3 889 605C889.5 607.7 889 606.5 888.6 609C888.2 611.5 886.8 610.3 887.8 612.5C888.8 614.7 888.6 613.9 891.5 615.6C894.4 617.3 889.8 616.4 896.5 617.5C903.2 618.6 901.5 618.2 911.5 619C921.5 619.8 920.2 619.3 926.5 620C932.8 620.7 928 620.2 930.5 621C933 621.8 931 622.2 934 622.5C937 622.8 936.2 622.8 939.5 622C942.8 621.2 941.6 622.2 944 620C946.4 617.8 945.3 618.8 946.6 615.5C947.9 612.2 947.5 616 947.8 610C948.1 604 948 605.8 947.6 597.5C947.2 589.2 952.4 588.7 946.5 585C940.6 581.3 940.8 585.1 930 586.4C919.2 587.7 920.5 588.3 914 588.8C907.5 589.3 912.7 588.7 910.6 587.8C908.5 586.9 908.7 586.6 907.8 586"/>
<path class="s" d="M914 607.5 L929 618.8"/>
<path class="s" d="M931.5 590 L947.8 603.8"/>
<path class="c" d="M947.8 610C948.9 610.7 948.9 611.2 951 612C953.1 612.8 951.4 613.2 954 612.5C956.6 611.8 957.2 610.8 958.8 610"/>
<path class="c" d="M946.5 585C947.3 583.7 947.3 583.5 949 581C950.7 578.5 948.2 582 951.5 577.5C954.8 573 956.4 570.8 958.8 567.5"/>
<path class="s" d="M904 553.8 L904 566 L911.5 562.5 L916.5 570 L932.8 571"/>
<path class="d" d="M893 457.7 L886.5 472.5"/>
<path class="d" d="M859 543.8 L826.5 626 L958.8 643.8"/>
<path class="d" d="M911.8 305 L936.9 366.7"/>
<path class="d" d="M944.6 386.6 L954.5 412.6"/>
<path class="s" d="M945.3 375.9C946.5 374.3 946.4 374.1 949 371C951.6 367.9 950.7 368.8 953 366.7C955.3 364.6 954 365.9 956 364.6C958 363.3 958 363.5 959 362.9"/>
<path class="s" d="M946.9 381.2C948.1 379.6 948.1 379.5 950.6 376.4C953.1 373.3 952.4 374 954.5 372C956.6 370 955.3 371.4 956.8 370.4C958.3 369.4 958.3 369.5 959 369"/>
<path class="w" d="M929.3 381.2C930.1 379.9 929.8 379.7 931.6 377.4C933.4 375.1 932.6 376.1 934.6 374.3C936.6 372.5 935.6 373.3 937.6 372C939.6 370.7 938.8 371.1 940.7 370.5C942.6 369.9 941.9 369.9 943.4 370.2C944.9 370.5 944.6 370.2 945.3 371.3C946 372.4 945.6 372.1 945.4 373.6C945.2 375.1 944.5 374.4 944.6 375.9C944.7 377.4 944.8 376.7 945.6 378.2C946.4 379.7 946.8 378.9 946.9 380.5C947 382.1 946.8 381.5 945.8 383C944.8 384.5 945.2 383.7 943.8 385C942.4 386.3 943.1 385.8 941.6 386.8C940.1 387.8 940.5 387.8 939.2 388.1C937.9 388.4 938.6 388.1 937.6 387.6C936.6 387.1 937.3 387.1 936.2 386.6C935.1 386.1 935.5 386.5 934.2 386C932.9 385.5 933.6 385.9 932.3 385C931 384.1 931.4 384.7 930.4 383.4C929.4 382.1 929.7 381.9 929.3 381.2C928.9 380.5 928.5 382.5 929.3 381.2Z"/>
<ellipse class="t" cx="940.7" cy="374.3" rx="2.9" ry="1.9" transform="rotate(-25 940.7 374.3)"/>
<path class="t" d="M933.1 380.5 L942.3 378.9"/>
<path class="t" d="M936.9 391.2 L940.7 392.7"/>
<path class="s" d="M936.4 387C936.6 388.4 937.4 387.7 936.9 391.2C936.4 394.7 936.3 393.3 934.8 397.4C933.3 401.5 933.9 400.3 932.3 403.4C930.7 406.5 931.8 404.8 930 406.8C928.2 408.8 930.8 407.6 927 409.5C923.2 411.4 924.2 410.6 918.6 412.6C913 414.6 914 413.7 910.2 415.6C906.4 417.5 909 416.4 907.2 418.4C905.4 420.4 905.6 420.6 904.8 421.7"/>
<path class="s" d="M940.2 387.6C940.4 389.3 941.2 388.8 940.7 392.7C940.2 396.6 940.1 395.1 938.6 399.4C937.1 403.7 937.9 402.2 936.2 405.7C934.5 409.2 935.5 407.3 933.4 409.8C931.3 412.3 933.9 411.1 930 413.3C926.1 415.5 927.2 414.4 921.6 416.4C916 418.4 917 417.5 913.2 419.4C909.4 421.3 912 420.1 910.2 422.2C908.4 424.3 908.7 424.5 907.9 425.6"/>
<path class="s" d="M904.8 421.7C904.5 421.9 904.3 422 903.8 422.4C903.3 422.8 903.5 422.8 903.3 423"/>
<path class="w" d="M885.4 427.9 L886.5 425.2 L896.2 422.5 L902.7 424.1 L908.7 426.3 L908.1 429 L906 431.7 L904.9 437.1"/>
<path class="s" d="M887.5 427.9 L896.2 430.1 L905.6 431.1"/>
<path class="w" d="M865.3 432.2 L868 430.1 L876.7 429 L881 431.7 L881 437.1 L883.2 438.7 L884.8 437.1 L884.8 429.5 L885.9 427.9 L896.2 430.4 L895.1 442.5 L869.1 449 L866.4 446.9Z"/>
<path class="s" d="M865.3 432.2 L869.1 434.4 L879.9 432.2"/>
<path class="s" d="M869.1 434.4 L869.6 440.4 L866.4 446.9"/>
<ellipse class="s" cx="876.7" cy="443.6" rx="1.5" ry="1.5"/>
<ellipse class="t" cx="874.5" cy="431.3" rx="1.1" ry="0.8"/>
<path class="s" d="M896.2 430.6 L892.4 452.8"/>
<path class="s" d="M900 431.7 L896.8 453.9"/>
<ellipse class="s" cx="894.6" cy="453.4" rx="2.2" ry="1" transform="rotate(10 894.6 453.4)"/>
<g transform="rotate(71 956.5 420.5)">
<rect class="w" x="948.5" y="417.7" width="18" height="5.6" rx="1"/>
<path class="k" d="M950 417.3 L949.2 423.7"/>
<path class="k" d="M952 417.3 L951.2 423.7"/>
<path class="k" d="M954 417.3 L953.2 423.7"/>
<path class="k" d="M956 417.3 L955.2 423.7"/>
<path class="k" d="M958 417.3 L957.2 423.7"/>
<path class="k" d="M960 417.3 L959.2 423.7"/>
</g>
<path class="d" d="M599.2 288.3 L635 275.8"/>
<path class="d" d="M335 335.8 L398.3 371.7"/>
<path class="d" d="M444.2 398.3 L531 447.4"/>
<path class="d" d="M367.5 459.2 L424 479 L505.5 375 L535.8 385.8"/>
</g>
<rect x="0" y="0" width="959" height="58" fill="#000"/>
<rect x="0" y="661" width="959" height="58" fill="#000"/>
</svg>
</body></html>
